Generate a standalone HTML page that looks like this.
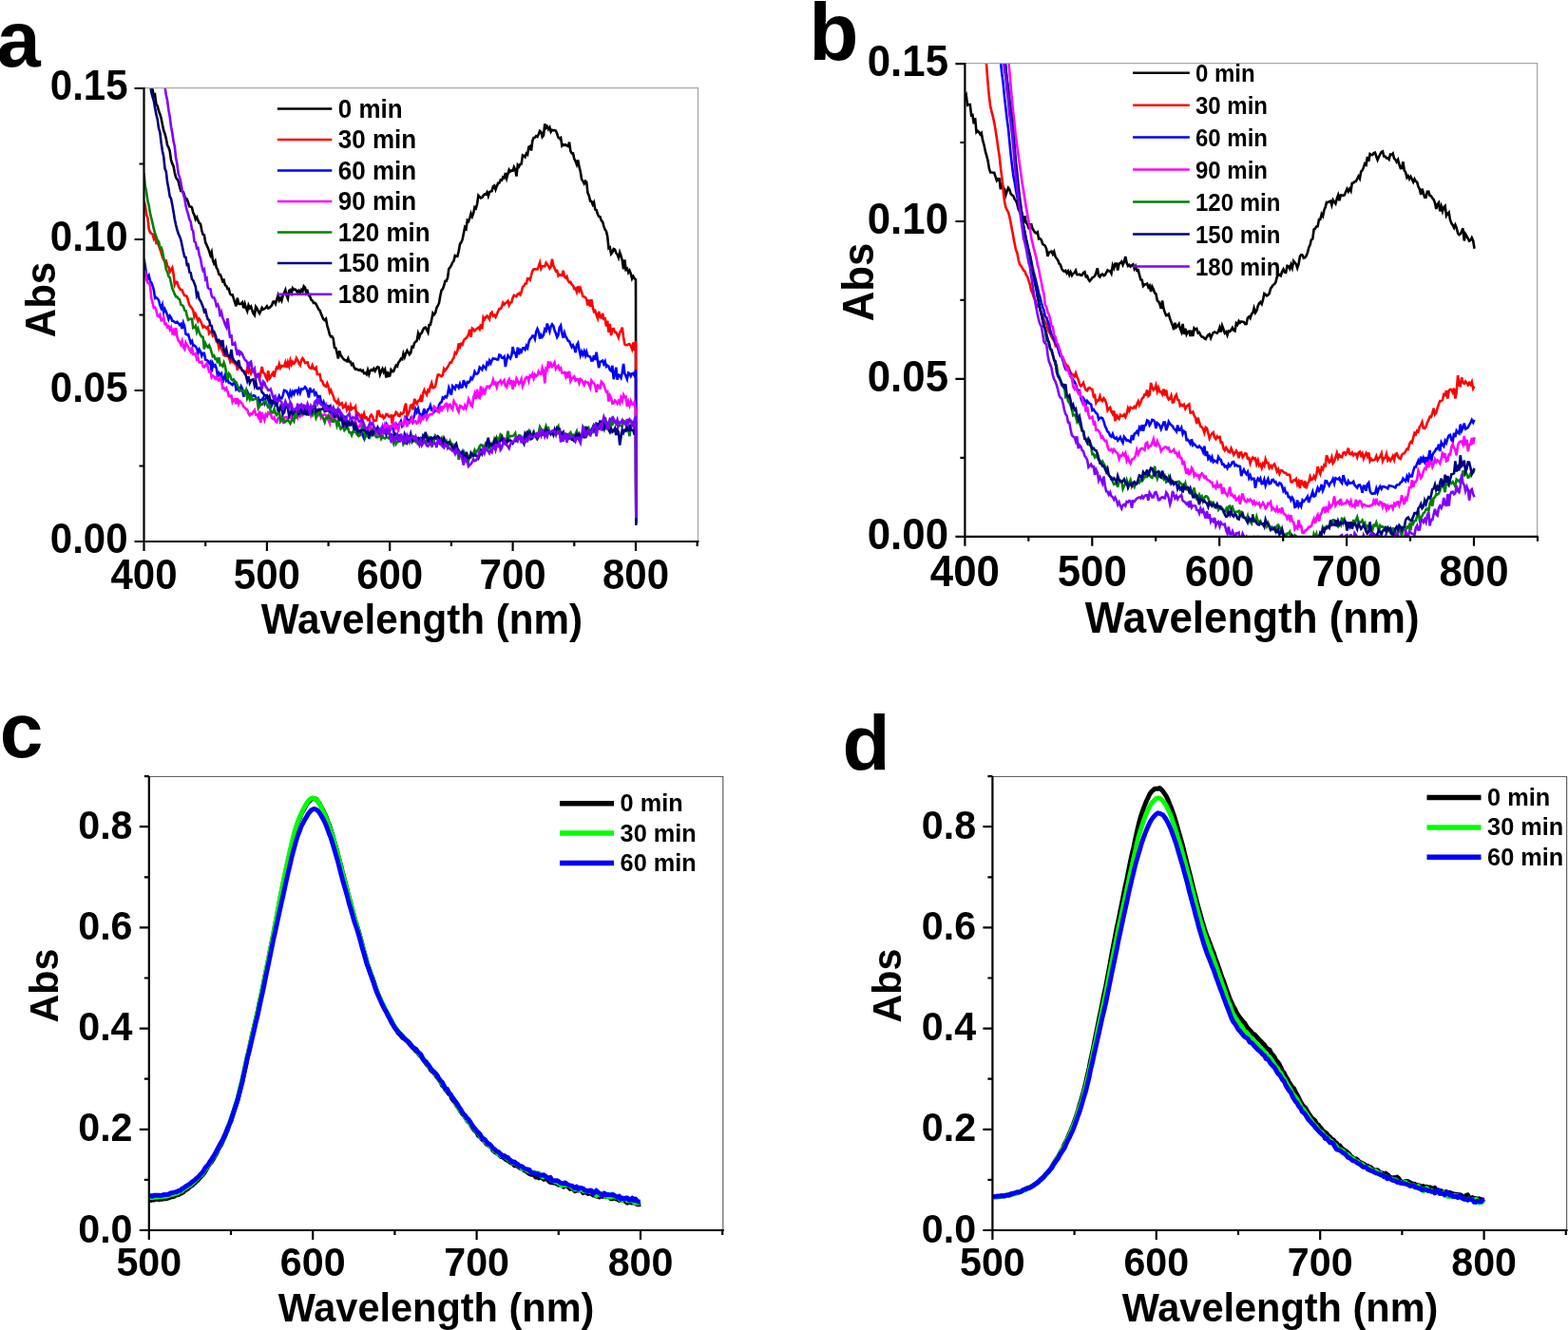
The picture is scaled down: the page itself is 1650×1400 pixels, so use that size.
<!DOCTYPE html>
<html lang="en"><head><meta charset="utf-8"><title>UV-vis absorption spectra</title>
<style>html,body{margin:0;padding:0;background:#fff}svg{display:block}text{font-family:'Liberation Sans', sans-serif;font-weight:bold;fill:#000}</style>
</head><body>
<svg width="1650" height="1400" viewBox="0 0 1650 1400">
<rect width="1650" height="1400" fill="#fff"/>
<defs>
<clipPath id="ca"><rect x="151.5" y="92.6" width="583" height="477.4"/></clipPath>
<clipPath id="cb"><rect x="1015.4" y="66.9" width="602" height="497.6"/></clipPath>
</defs>
<g id="panel-a">
<g clip-path="url(#ca)" fill="none" stroke-width="2.6" stroke-linejoin="miter" stroke-miterlimit="4">
<polyline stroke="#000000" points="151.5,55.1 152.8,64.2 154.1,70.5 155.4,72.9 156.7,78.6 158,83.6 159.3,90.9 160.6,94.7 161.8,100.6 163.1,99.6 164.4,109.9 165.7,111.3 167,116.8 168.3,120 169.6,124.3 170.9,131.1 172.2,137.3 173.5,140.6 174.8,145.8 176.1,152.8 177.4,155.1 178.7,159.1 180,168.5 181.3,172.4 182.6,175 183.8,181.8 185.1,186.8 186.4,188.7 187.7,190.9 189,196.5 190.3,201 191.6,201.1 192.9,202 194.2,206.2 195.5,209.3 196.8,209.6 198.1,213.5 199.4,217.3 200.7,217.5 202,218.5 203.2,223.9 204.5,226.3 205.8,230.8 207.1,228.7 208.4,232.2 209.7,234.8 211,235.7 212.3,242.5 213.6,246.9 214.9,247.5 216.2,255.2 217.5,257.9 218.8,260.9 220.1,264.3 221.4,268.5 222.7,265.2 223.9,273.6 225.2,277.3 226.5,274.9 227.8,281.9 229.1,283.8 230.4,288.8 231.7,288.9 233,292.1 234.3,295.9 235.6,295 236.9,300.1 238.2,300.9 239.5,304.1 240.8,303.9 242.1,309.3 243.4,310.4 244.6,310.3 245.9,314.4 247.2,318.7 248.5,322.4 249.8,313.6 251.1,319.5 252.4,320.1 253.7,319.7 255,318.3 256.3,324.3 257.6,319.8 258.9,324.4 260.2,327.4 261.5,321.4 262.8,324.3 264.1,322.7 265.4,326.8 266.6,330.2 267.9,331.8 269.2,322.8 270.5,324.6 271.8,327.7 273.1,330 274.4,327.3 275.7,324 277,325.8 278.3,325 279.6,324.1 280.9,322.4 282.2,324.5 283.5,324.1 284.8,322.6 286,321.6 287.3,317.7 288.6,317.5 289.9,319.9 291.2,315.7 292.5,311.1 293.8,316.1 295.1,313.8 296.4,316.4 297.7,311 299,308.5 300.3,305.3 301.6,311.1 302.9,314.3 304.2,306.1 305.5,305.2 306.8,308.5 308,303.3 309.3,304.8 310.6,304.7 311.9,305.9 313.2,308.2 314.5,306 315.8,307.9 317.1,305.1 318.4,306.8 319.7,301.3 321,302.6 322.3,308.5 323.6,306.6 324.9,311.1 326.2,312.1 327.4,315.7 328.7,316.5 330,318.9 331.3,318.9 332.6,320.1 333.9,322.8 335.2,325.4 336.5,326.8 337.8,330 339.1,333.2 340.4,336.1 341.7,337 343,335.7 344.3,342.6 345.6,346.9 346.9,352.2 348.1,354.3 349.4,354.1 350.7,356.4 352,365.8 353.3,366.4 354.6,371.4 355.9,377.6 357.2,369.3 358.5,373.8 359.8,375.8 361.1,377.5 362.4,378.8 363.7,379.2 365,380.2 366.3,377.3 367.6,381 368.9,380.9 370.1,384 371.4,382.9 372.7,386.8 374,388.6 375.3,388.4 376.6,389.3 377.9,389.8 379.2,389.2 380.5,390.6 381.8,389.9 383.1,393 384.4,392.7 385.7,394.1 387,389.5 388.3,394 389.5,390.2 390.8,389.3 392.1,390 393.4,388 394.7,390.5 396,388 397.3,386.3 398.6,386.7 399.9,394 401.2,390.7 402.5,388.2 403.8,391.6 405.1,389.1 406.4,397.5 407.7,391.1 409,395.9 410.2,395.5 411.5,389.4 412.8,391.1 414.1,391 415.4,387.6 416.7,384.7 418,385.6 419.3,381.6 420.6,380.1 421.9,377.7 423.2,378.2 424.5,372.2 425.8,375.8 427.1,372.1 428.4,369.1 429.7,371.1 430.9,373.2 432.2,371.5 433.5,365 434.8,365.5 436.1,361.1 437.4,359.7 438.7,358.5 440,351.2 441.3,355 442.6,351.2 443.9,350.3 445.2,346.9 446.5,345 447.8,344.6 449.1,347.1 450.4,349.8 451.6,342 452.9,341.8 454.2,336.4 455.5,329.5 456.8,331.2 458.1,329.4 459.4,324.1 460.7,321.9 462,318.9 463.3,311.5 464.6,305.5 465.9,304.2 467.2,300.5 468.5,295.8 469.8,295.7 471.1,292.2 472.3,283 473.6,281.5 474.9,279.4 476.2,276.3 477.5,274.7 478.8,269.1 480.1,270 481.4,269.9 482.7,264.3 484,256.9 485.3,255 486.6,252.2 487.9,245.7 489.2,239.2 490.5,240.7 491.8,231.8 493.1,232.8 494.3,229.7 495.6,224.6 496.9,227.9 498.2,224.3 499.5,218.2 500.8,219.4 502.1,214.8 503.4,205.8 504.7,207.1 506,208.5 507.3,208 508.6,205.8 509.9,204.4 511.2,204.6 512.5,202.4 513.8,206.4 515,202.3 516.3,201.5 517.6,201.1 518.9,196.3 520.2,195.4 521.5,199.5 522.8,195.9 524.1,192.7 525.4,192.6 526.7,189.4 528,189.7 529.3,186.5 530.6,187.4 531.9,182.1 533.2,187.5 534.5,182.8 535.7,178.7 537,180.6 538.3,179.5 539.6,179.8 540.9,175.8 542.2,178.3 543.5,185.5 544.8,173.8 546.1,175.4 547.4,172.9 548.7,172.5 550,163.4 551.3,164 552.6,165.3 553.9,161.6 555.1,162.7 556.4,154.8 557.7,154 559,158.5 560.3,148.3 561.6,144.9 562.9,144.8 564.2,143.2 565.5,143.9 566.8,141.2 568.1,137.9 569.4,139 570.7,144.2 572,142.6 573.3,130.5 574.6,134.6 575.8,133.1 577.1,136.1 578.4,134.1 579.7,138.7 581,136.8 582.3,137.2 583.6,137 584.9,137.7 586.2,140.8 587.5,144.7 588.8,145.8 590.1,145 591.4,153.5 592.7,152.4 594,153 595.3,152.3 596.5,153.4 597.8,154 599.1,149.6 600.4,159.2 601.7,161.5 603,161.4 604.3,167.3 605.6,169.5 606.9,173.1 608.2,168.4 609.5,175.7 610.8,180.7 612.1,188.7 613.4,190.6 614.7,193.1 616,190.6 617.2,191.7 618.5,203.1 619.8,206 621.1,211.6 622.4,211.8 623.7,215.2 625,213 626.3,220.6 627.6,221.1 628.9,225.3 630.2,228 631.5,228.4 632.8,232.2 634.1,233.4 635.4,238.4 636.7,241.7 638,243.6 639.2,248.7 640.5,261.2 641.8,260.4 643.1,267.2 644.4,265.5 645.7,262.1 647,262.7 648.3,266.2 649.6,267.9 650.9,271.3 652.2,265.7 653.5,269.4 654.8,274.2 656.1,283.4 657.4,273.5 658.6,283.8 659.9,282.7 661.2,286.8 662.5,284.7 663.8,288.1 665.1,293.4 666.4,290.9 667.7,293.2 669,294.3 669.3,551"/>
<polyline stroke="#ff0000" points="151.5,211.7 152.8,216.2 154.1,225.9 155.4,229.3 156.7,240.9 158,244.5 159.3,245.8 160.6,246.5 161.8,251.1 163.1,248.3 164.4,255.8 165.7,255.7 167,258.2 168.3,262.2 169.6,265.7 170.9,270.4 172.2,273.4 173.5,274.9 174.8,274.5 176.1,280.1 177.4,281 178.7,286 180,284 181.3,281.8 182.6,288.5 183.8,299.7 185.1,296.8 186.4,297 187.7,301.4 189,303.7 190.3,305.2 191.6,305.2 192.9,308.5 194.2,311 195.5,311.3 196.8,312.1 198.1,316.9 199.4,321.2 200.7,322.9 202,324.5 203.2,326.6 204.5,333.4 205.8,330.6 207.1,333.8 208.4,338 209.7,335.7 211,337.5 212.3,341.1 213.6,344.5 214.9,343.2 216.2,344.6 217.5,345.6 218.8,344.1 220.1,351 221.4,349.7 222.7,348 223.9,353.2 225.2,351.7 226.5,354.9 227.8,359.5 229.1,359.5 230.4,366 231.7,362.1 233,367.4 234.3,370.2 235.6,374.1 236.9,374.6 238.2,374.2 239.5,375 240.8,375.9 242.1,380.3 243.4,376.5 244.6,381 245.9,380.9 247.2,382.8 248.5,382.7 249.8,389.7 251.1,384.2 252.4,386.8 253.7,388 255,389.9 256.3,390.5 257.6,391.2 258.9,393.4 260.2,387.9 261.5,391.6 262.8,389.3 264.1,393.1 265.4,390.1 266.6,389.3 267.9,393 269.2,397.5 270.5,396.1 271.8,395.4 273.1,398.2 274.4,392.5 275.7,385.9 277,392.2 278.3,393.1 279.6,396.8 280.9,399.3 282.2,390.3 283.5,398.6 284.8,396.9 286,394.4 287.3,392.3 288.6,396.7 289.9,390.3 291.2,386.7 292.5,387.6 293.8,383.1 295.1,387.3 296.4,385 297.7,385.5 299,385.4 300.3,381.5 301.6,387 302.9,381.4 304.2,385.5 305.5,379.4 306.8,383.6 308,380.9 309.3,382.7 310.6,381.1 311.9,376.9 313.2,379.2 314.5,382.5 315.8,384.4 317.1,379.3 318.4,377.1 319.7,379 321,382 322.3,381.7 323.6,381.3 324.9,385.9 326.2,387.4 327.4,387.8 328.7,384.5 330,387.9 331.3,388.8 332.6,387 333.9,394 335.2,394 336.5,393.9 337.8,400.4 339.1,401.2 340.4,404.5 341.7,406.3 343,406.9 344.3,403.5 345.6,407 346.9,412.8 348.1,410.6 349.4,414.1 350.7,416.9 352,421.3 353.3,422.7 354.6,424.2 355.9,421.4 357.2,426.2 358.5,425.4 359.8,424.4 361.1,429.1 362.4,428.2 363.7,425.6 365,431.3 366.3,428.7 367.6,431.3 368.9,426.8 370.1,430.7 371.4,429.4 372.7,429.8 374,428 375.3,438.9 376.6,434.8 377.9,436 379.2,439.1 380.5,437.1 381.8,440 383.1,435.5 384.4,440 385.7,439.3 387,442.1 388.3,442.3 389.5,438.2 390.8,436.6 392.1,438.5 393.4,443.2 394.7,442.8 396,442.5 397.3,433.1 398.6,432.8 399.9,437.9 401.2,438.5 402.5,437.3 403.8,440.2 405.1,439 406.4,435.9 407.7,436.1 409,438.4 410.2,438.2 411.5,437.5 412.8,446.4 414.1,437.4 415.4,437.2 416.7,433.8 418,434.8 419.3,437.6 420.6,437.9 421.9,434.7 423.2,435.7 424.5,434.7 425.8,429.2 427.1,424.6 428.4,438 429.7,435.4 430.9,432.2 432.2,426.7 433.5,426.1 434.8,431.4 436.1,419.8 437.4,423.1 438.7,425 440,421.8 441.3,421.7 442.6,418.2 443.9,423.1 445.2,413.7 446.5,410.5 447.8,413.2 449.1,415.4 450.4,410.7 451.6,411.8 452.9,406.7 454.2,403.1 455.5,408.2 456.8,408 458.1,406.7 459.4,400.2 460.7,394.7 462,394.4 463.3,395.2 464.6,396.3 465.9,394.8 467.2,388.2 468.5,390 469.8,388.1 471.1,386.4 472.3,384.2 473.6,381.6 474.9,381.6 476.2,378.6 477.5,376.7 478.8,371.2 480.1,372.3 481.4,369.1 482.7,361.5 484,365.3 485.3,361.9 486.6,362.8 487.9,358.5 489.2,356.8 490.5,356.1 491.8,354.2 493.1,351.8 494.3,346.9 495.6,354.7 496.9,345.7 498.2,346.8 499.5,348.3 500.8,346.6 502.1,345.7 503.4,344.8 504.7,346.6 506,341.3 507.3,346.3 508.6,334.2 509.9,336.3 511.2,334.1 512.5,332.5 513.8,334.1 515,336.1 516.3,330.1 517.6,328.7 518.9,332.6 520.2,331.7 521.5,333.8 522.8,330.9 524.1,327.7 525.4,325 526.7,325.1 528,323 529.3,318.7 530.6,320.6 531.9,319.2 533.2,318.2 534.5,316.8 535.7,321.3 537,318.5 538.3,318.1 539.6,313.3 540.9,310.8 542.2,311.6 543.5,312.1 544.8,309.7 546.1,308.7 547.4,310.3 548.7,307.3 550,302 551.3,301 552.6,298.5 553.9,298.5 555.1,293.1 556.4,293.2 557.7,294.7 559,290.2 560.3,285.2 561.6,283.4 562.9,283.4 564.2,283.3 565.5,283.5 566.8,280.4 568.1,276.5 569.4,282.7 570.7,280.2 572,280.2 573.3,280.4 574.6,276.7 575.8,278.2 577.1,280.1 578.4,282.6 579.7,280.8 581,272.7 582.3,279.5 583.6,282.2 584.9,285.4 586.2,284.9 587.5,290.2 588.8,289 590.1,289.7 591.4,289.8 592.7,284.7 594,291.3 595.3,292.6 596.5,291 597.8,295.5 599.1,297.3 600.4,296.9 601.7,299.5 603,300.6 604.3,303.9 605.6,303.5 606.9,307.2 608.2,301.2 609.5,306.2 610.8,303.4 612.1,307.5 613.4,312.1 614.7,312.3 616,313.2 617.2,315.2 618.5,321.5 619.8,315.4 621.1,322.7 622.4,315.3 623.7,322.9 625,328.1 626.3,327.1 627.6,331.7 628.9,335.1 630.2,327.9 631.5,333.8 632.8,334.4 634.1,329.9 635.4,335.7 636.7,335.4 638,343.5 639.2,337.6 640.5,349.9 641.8,341 643.1,353.1 644.4,346.5 645.7,346.1 647,349.6 648.3,349.7 649.6,352.5 650.9,355.4 652.2,349.9 653.5,348 654.8,344.7 656.1,355 657.4,362.4 658.6,363.2 659.9,363.2 661.2,362.4 662.5,362.1 663.8,364.1 665.1,367.5 666.4,360.4 667.7,369.1 669,359.1 669.3,551"/>
<polyline stroke="#0000ff" points="151.5,272.2 152.8,280.3 154.1,289 155.4,292.9 156.7,290.1 158,295.6 159.3,297.6 160.6,301 161.8,305 163.1,313.8 164.4,313.2 165.7,314.5 167,316 168.3,321 169.6,324.3 170.9,320.7 172.2,328.7 173.5,325.3 174.8,328.2 176.1,331.4 177.4,335.9 178.7,332.5 180,334.4 181.3,337.8 182.6,338 183.8,339.2 185.1,339.8 186.4,338.8 187.7,340.3 189,342.1 190.3,341.1 191.6,346.1 192.9,339.8 194.2,343.5 195.5,351.6 196.8,352.3 198.1,352 199.4,356.6 200.7,360.8 202,359 203.2,363.6 204.5,363.5 205.8,364.8 207.1,366.7 208.4,371.3 209.7,367.7 211,369.9 212.3,374.6 213.6,371.8 214.9,371.8 216.2,378.5 217.5,379.1 218.8,380 220.1,382.1 221.4,380.7 222.7,391.6 223.9,382.6 225.2,385.5 226.5,384.4 227.8,388 229.1,396.6 230.4,392.7 231.7,394.8 233,393.3 234.3,402.8 235.6,398.1 236.9,394.8 238.2,400.8 239.5,399.4 240.8,402.9 242.1,403 243.4,404.3 244.6,405.1 245.9,403.3 247.2,402.4 248.5,410 249.8,408.9 251.1,410.9 252.4,410.1 253.7,406.6 255,409.1 256.3,417.6 257.6,413.3 258.9,414.5 260.2,412.1 261.5,414.8 262.8,415.8 264.1,416.2 265.4,417.4 266.6,416.3 267.9,416.5 269.2,418.3 270.5,419.7 271.8,418.8 273.1,424.2 274.4,420.9 275.7,420.8 277,418.9 278.3,423.9 279.6,419.3 280.9,417.6 282.2,419.5 283.5,424.5 284.8,420.4 286,426.6 287.3,423.6 288.6,418.9 289.9,421.5 291.2,426.9 292.5,419.9 293.8,416.7 295.1,419.3 296.4,419.4 297.7,416.4 299,410.8 300.3,411.2 301.6,411.9 302.9,414.6 304.2,417.9 305.5,412.5 306.8,416.1 308,412.4 309.3,414.8 310.6,411 311.9,410.9 313.2,413.7 314.5,409.9 315.8,413.6 317.1,409.4 318.4,409.9 319.7,409 321,407.3 322.3,409 323.6,412.1 324.9,418.5 326.2,408.2 327.4,412.3 328.7,412 330,410.9 331.3,415.4 332.6,413.6 333.9,417 335.2,422.7 336.5,416 337.8,423 339.1,425.6 340.4,423.1 341.7,427.7 343,428.6 344.3,427.5 345.6,432.3 346.9,426.6 348.1,431.9 349.4,430.2 350.7,428.9 352,431.8 353.3,432.4 354.6,436.5 355.9,431.5 357.2,435.4 358.5,436.2 359.8,442.8 361.1,437.3 362.4,443.7 363.7,437.8 365,444.3 366.3,444.4 367.6,446.8 368.9,445.1 370.1,442.5 371.4,444.5 372.7,453.8 374,453 375.3,449.6 376.6,456.4 377.9,453.4 379.2,453.4 380.5,452.1 381.8,458.5 383.1,461.4 384.4,453.6 385.7,456 387,458 388.3,461.3 389.5,449.1 390.8,454.4 392.1,456.3 393.4,450.5 394.7,454.8 396,454.6 397.3,455.8 398.6,452.1 399.9,454.2 401.2,451.3 402.5,454 403.8,452.8 405.1,450.9 406.4,447.5 407.7,455.1 409,454.3 410.2,453.2 411.5,448.4 412.8,448.3 414.1,453.4 415.4,451.1 416.7,446 418,447.4 419.3,447.4 420.6,445.9 421.9,443.3 423.2,448.5 424.5,446.8 425.8,444 427.1,439.4 428.4,441 429.7,442.3 430.9,444.3 432.2,440.6 433.5,443.7 434.8,440.8 436.1,437.4 437.4,430.8 438.7,433.8 440,430.2 441.3,435.1 442.6,436.4 443.9,438.7 445.2,434.5 446.5,430.2 447.8,438.8 449.1,433.6 450.4,431 451.6,430.2 452.9,426.7 454.2,431.4 455.5,430.8 456.8,433.7 458.1,432.2 459.4,432 460.7,433 462,426.3 463.3,423.9 464.6,423.3 465.9,418.4 467.2,419.3 468.5,417.3 469.8,418.2 471.1,415.1 472.3,408.3 473.6,411.9 474.9,415.5 476.2,406.3 477.5,407.7 478.8,409.5 480.1,405.5 481.4,405.8 482.7,408 484,404 485.3,407.8 486.6,407.5 487.9,400.2 489.2,404.1 490.5,406.4 491.8,402.1 493.1,402.7 494.3,401.4 495.6,397.6 496.9,399.2 498.2,396.5 499.5,391.3 500.8,393.6 502.1,393.5 503.4,392.1 504.7,386.6 506,387.7 507.3,389.2 508.6,385.2 509.9,386.4 511.2,388 512.5,382 513.8,383.6 515,379.7 516.3,382.5 517.6,379.2 518.9,377.2 520.2,377.9 521.5,377.6 522.8,378.5 524.1,378.4 525.4,373.6 526.7,374.1 528,376.6 529.3,376.9 530.6,375.5 531.9,386 533.2,378.9 534.5,374.3 535.7,375.8 537,377.3 538.3,374.4 539.6,365.1 540.9,371.3 542.2,371.4 543.5,376.6 544.8,365.7 546.1,373.1 547.4,368.6 548.7,370.3 550,366.4 551.3,366.3 552.6,368 553.9,364 555.1,366.3 556.4,360.3 557.7,357.1 559,355.8 560.3,353.6 561.6,353.5 562.9,356.7 564.2,349.2 565.5,346.2 566.8,349.6 568.1,356.6 569.4,352.6 570.7,354.6 572,352.4 573.3,346.6 574.6,348.1 575.8,340.5 577.1,345.2 578.4,349 579.7,343.4 581,341.3 582.3,343.1 583.6,347.9 584.9,350.6 586.2,354.9 587.5,352.5 588.8,344.7 590.1,342.6 591.4,350.7 592.7,355.8 594,350.2 595.3,354.1 596.5,356.1 597.8,358.7 599.1,359.3 600.4,362.4 601.7,365.3 603,363.4 604.3,366.1 605.6,371.1 606.9,363.1 608.2,361 609.5,368.2 610.8,374.1 612.1,370.1 613.4,373.4 614.7,369.9 616,374.2 617.2,370.3 618.5,374.8 619.8,375 621.1,375.6 622.4,379.6 623.7,379.5 625,374.1 626.3,378.9 627.6,370.8 628.9,379.6 630.2,387.3 631.5,380.7 632.8,380.4 634.1,379.7 635.4,383.2 636.7,380.4 638,385.8 639.2,384.7 640.5,385.7 641.8,389.4 643.1,390.4 644.4,384.9 645.7,399.2 647,394 648.3,386.7 649.6,399.6 650.9,394.6 652.2,395.3 653.5,397.6 654.8,391.7 656.1,382.9 657.4,393.3 658.6,395.8 659.9,399.1 661.2,392.4 662.5,393.1 663.8,396 665.1,393.3 666.4,392.9 667.7,395.4 669,389.5 669.3,551"/>
<polyline stroke="#ff00ff" points="151.5,286.3 152.8,286.1 154.1,294.3 155.4,297.7 156.7,297.6 158,301.2 159.3,314.1 160.6,318.7 161.8,323.9 163.1,323.6 164.4,326.8 165.7,332.4 167,333.3 168.3,331.4 169.6,337.3 170.9,337.1 172.2,334.2 173.5,341.2 174.8,340.8 176.1,344.5 177.4,343.4 178.7,347 180,344.4 181.3,350.2 182.6,347.9 183.8,353.1 185.1,345.2 186.4,354.5 187.7,358.7 189,359.8 190.3,362.7 191.6,358.8 192.9,365.6 194.2,367.6 195.5,360.7 196.8,363.5 198.1,365.5 199.4,368.2 200.7,370.4 202,365.1 203.2,373 204.5,373 205.8,372.3 207.1,378.1 208.4,376.8 209.7,381.4 211,381.7 212.3,380.8 213.6,385.6 214.9,386.5 216.2,384.5 217.5,382.7 218.8,386.5 220.1,391.1 221.4,390.8 222.7,397.2 223.9,395.4 225.2,396.4 226.5,398.4 227.8,396.7 229.1,399.9 230.4,400.4 231.7,397.6 233,400.3 234.3,408.8 235.6,408.2 236.9,410.4 238.2,408.5 239.5,411.9 240.8,417.1 242.1,417.2 243.4,416.5 244.6,423 245.9,420.4 247.2,420.3 248.5,425.3 249.8,418.9 251.1,425.3 252.4,422.3 253.7,423.7 255,424.9 256.3,428.1 257.6,429.2 258.9,430.6 260.2,431.2 261.5,435.3 262.8,437.2 264.1,435.4 265.4,435.9 266.6,433.4 267.9,431.7 269.2,436.7 270.5,436.3 271.8,439.1 273.1,432.7 274.4,444.8 275.7,434 277,438.6 278.3,442.1 279.6,436.3 280.9,438 282.2,434.2 283.5,435.4 284.8,434.1 286,439.7 287.3,440.8 288.6,439.2 289.9,443.4 291.2,444.2 292.5,440.5 293.8,439.4 295.1,439.2 296.4,438 297.7,443.3 299,441 300.3,439.1 301.6,439 302.9,440.9 304.2,438.3 305.5,439.7 306.8,438.5 308,441.9 309.3,441.4 310.6,434 311.9,436.2 313.2,439.6 314.5,435.5 315.8,438.2 317.1,436.9 318.4,437.1 319.7,435 321,435.4 322.3,435.7 323.6,429.9 324.9,430.5 326.2,430.1 327.4,437.3 328.7,434.8 330,434.9 331.3,433.9 332.6,432.1 333.9,431.6 335.2,436.3 336.5,433.9 337.8,439.4 339.1,437.1 340.4,436.7 341.7,436.3 343,437.1 344.3,437.9 345.6,442.4 346.9,445.5 348.1,435 349.4,439.6 350.7,441.8 352,437.9 353.3,438.6 354.6,439.5 355.9,434.6 357.2,442.7 358.5,442 359.8,442.2 361.1,443.1 362.4,444 363.7,450.1 365,445.3 366.3,446.9 367.6,443.7 368.9,446.6 370.1,444.9 371.4,445.5 372.7,443.9 374,443.1 375.3,448 376.6,449.7 377.9,449.5 379.2,446.7 380.5,449.4 381.8,442.2 383.1,451.1 384.4,449.9 385.7,450.9 387,453.8 388.3,449.5 389.5,453.8 390.8,450.7 392.1,453.4 393.4,450.7 394.7,453.1 396,456.7 397.3,451.4 398.6,450.9 399.9,451.6 401.2,453.4 402.5,460.2 403.8,451.8 405.1,446.7 406.4,449.7 407.7,447.3 409,449.7 410.2,451.4 411.5,448.7 412.8,448.9 414.1,445.3 415.4,450.3 416.7,447.4 418,451.4 419.3,452.7 420.6,445.3 421.9,445.1 423.2,445.8 424.5,447.4 425.8,440.5 427.1,443.7 428.4,449.1 429.7,444.1 430.9,444.2 432.2,443.4 433.5,439.9 434.8,445.1 436.1,443.8 437.4,443.5 438.7,445.6 440,444.7 441.3,437 442.6,443 443.9,439.7 445.2,440.9 446.5,438.1 447.8,436.9 449.1,441.2 450.4,438.5 451.6,436.8 452.9,436 454.2,436.3 455.5,435.3 456.8,427.8 458.1,428.8 459.4,430.9 460.7,432.8 462,433.8 463.3,426.9 464.6,433.2 465.9,428.5 467.2,428.8 468.5,425.7 469.8,425 471.1,430.2 472.3,426.1 473.6,425.8 474.9,429.1 476.2,430.9 477.5,422.3 478.8,424.8 480.1,425.6 481.4,430.8 482.7,433.4 484,427 485.3,427.6 486.6,429.2 487.9,430.4 489.2,426.7 490.5,429.7 491.8,425.9 493.1,420.1 494.3,422.8 495.6,426.8 496.9,427.8 498.2,418.3 499.5,414.3 500.8,419.9 502.1,409.8 503.4,418.1 504.7,419 506,406.5 507.3,413.7 508.6,410.5 509.9,415.5 511.2,409.6 512.5,406.8 513.8,406.7 515,408.2 516.3,405.7 517.6,404.4 518.9,399.6 520.2,403.9 521.5,402.8 522.8,407.4 524.1,402.8 525.4,402.1 526.7,400.5 528,404 529.3,401.9 530.6,400.3 531.9,406.4 533.2,407.6 534.5,401.6 535.7,399.4 537,405 538.3,400.3 539.6,409.7 540.9,402.7 542.2,404.7 543.5,398.5 544.8,401 546.1,404.1 547.4,402.3 548.7,399 550,406.5 551.3,403.6 552.6,398.9 553.9,396.9 555.1,397.2 556.4,401.2 557.7,395.3 559,396.3 560.3,393.5 561.6,398.2 562.9,394.3 564.2,396 565.5,394.8 566.8,390.9 568.1,393.3 569.4,393.6 570.7,387.1 572,390.5 573.3,403.5 574.6,388 575.8,389.1 577.1,380.2 578.4,385.3 579.7,382.7 581,386 582.3,384.4 583.6,381.6 584.9,388.3 586.2,386.4 587.5,385 588.8,389 590.1,387.6 591.4,392.4 592.7,392.5 594,392 595.3,396 596.5,391.4 597.8,398.1 599.1,390.6 600.4,401.2 601.7,398.7 603,397.5 604.3,396.3 605.6,400.5 606.9,399.2 608.2,399.3 609.5,403.4 610.8,399 612.1,399.9 613.4,402.4 614.7,405.1 616,401.6 617.2,402.5 618.5,402.5 619.8,405.1 621.1,408.3 622.4,400.6 623.7,402.6 625,403.4 626.3,405.9 627.6,412.9 628.9,405.5 630.2,405.8 631.5,409.5 632.8,401.8 634.1,403.1 635.4,405 636.7,409.1 638,412.5 639.2,412.2 640.5,422.6 641.8,416.4 643.1,418.8 644.4,424.7 645.7,424.4 647,421.5 648.3,422.9 649.6,424.9 650.9,422 652.2,424.3 653.5,418.5 654.8,421.9 656.1,415.6 657.4,418.1 658.6,417.7 659.9,427.8 661.2,422.7 662.5,426.8 663.8,422.1 665.1,425.3 666.4,425.9 667.7,423.3 669,432.4 669.3,545"/>
<polyline stroke="#008000" points="151.5,182 152.8,196.1 154.1,202 155.4,211.7 156.7,216.2 158,224.7 159.3,229.7 160.6,235.2 161.8,240.9 163.1,245.4 164.4,249.1 165.7,253.2 167,254.3 168.3,260.7 169.6,260.5 170.9,263.8 172.2,271.7 173.5,276.1 174.8,283.7 176.1,286.2 177.4,290.9 178.7,292.2 180,297.8 181.3,303.7 182.6,306.5 183.8,309.7 185.1,312.2 186.4,312.4 187.7,314.3 189,315 190.3,320.5 191.6,321.3 192.9,322.3 194.2,326.5 195.5,326.9 196.8,332.4 198.1,336.8 199.4,336.2 200.7,335.5 202,335.6 203.2,345.2 204.5,344.7 205.8,342.9 207.1,349.5 208.4,346 209.7,350.1 211,352.8 212.3,354.6 213.6,354.8 214.9,367.6 216.2,361.5 217.5,364.3 218.8,365.5 220.1,363.5 221.4,366.7 222.7,371.2 223.9,375.1 225.2,374.2 226.5,377.8 227.8,377.7 229.1,382.2 230.4,376.2 231.7,384.4 233,384 234.3,385.5 235.6,381.7 236.9,385.6 238.2,393 239.5,399.4 240.8,393.2 242.1,394.8 243.4,399.1 244.6,400.3 245.9,399.4 247.2,401.5 248.5,402.3 249.8,406 251.1,408 252.4,411.7 253.7,411.1 255,411.5 256.3,411.3 257.6,414.2 258.9,410.8 260.2,419.3 261.5,416.6 262.8,420.1 264.1,415.9 265.4,420.9 266.6,420.8 267.9,420.1 269.2,419.6 270.5,419.7 271.8,429.7 273.1,427.6 274.4,425.2 275.7,425.8 277,424.2 278.3,421.9 279.6,422.5 280.9,426.2 282.2,428.6 283.5,427.2 284.8,433 286,434 287.3,434.2 288.6,430.5 289.9,434.9 291.2,436.9 292.5,434.8 293.8,433 295.1,443.7 296.4,442.1 297.7,439.6 299,444.6 300.3,444.2 301.6,442.7 302.9,442.2 304.2,443.7 305.5,445.7 306.8,442.4 308,441.2 309.3,443.3 310.6,433.3 311.9,438.4 313.2,436.6 314.5,436.3 315.8,434.9 317.1,435.5 318.4,434.9 319.7,434.8 321,434.1 322.3,435.9 323.6,433.8 324.9,437.5 326.2,429.1 327.4,435.5 328.7,437.1 330,433.1 331.3,435 332.6,439.9 333.9,436.8 335.2,435 336.5,429.7 337.8,437.7 339.1,438.4 340.4,440.9 341.7,444.3 343,439.8 344.3,440 345.6,437.4 346.9,440 348.1,440.9 349.4,443.6 350.7,444 352,441.4 353.3,442.5 354.6,448 355.9,443.5 357.2,448 358.5,451.4 359.8,450 361.1,449.5 362.4,452.9 363.7,451.4 365,451 366.3,451.1 367.6,455.3 368.9,455.3 370.1,458.1 371.4,454.3 372.7,454 374,454.5 375.3,456.7 376.6,454.8 377.9,458.8 379.2,457.9 380.5,454.6 381.8,449.3 383.1,451.6 384.4,460.2 385.7,457.6 387,457.8 388.3,456.5 389.5,459 390.8,453.1 392.1,452.3 393.4,453.2 394.7,457.8 396,460.2 397.3,460.2 398.6,459.1 399.9,456.4 401.2,461.8 402.5,459.7 403.8,461 405.1,461.5 406.4,460.3 407.7,460.6 409,461.3 410.2,459.9 411.5,463.9 412.8,463.3 414.1,466.8 415.4,460.3 416.7,467.3 418,465.2 419.3,465 420.6,463.5 421.9,463.5 423.2,459.8 424.5,467.5 425.8,465.6 427.1,466.9 428.4,466.2 429.7,461.4 430.9,462.2 432.2,462 433.5,465.5 434.8,463.7 436.1,463.6 437.4,465 438.7,463.2 440,468.4 441.3,460.3 442.6,466.1 443.9,467.3 445.2,461 446.5,465.4 447.8,464.5 449.1,466 450.4,461 451.6,464.1 452.9,461.4 454.2,462.8 455.5,467.5 456.8,464.1 458.1,458.6 459.4,460.3 460.7,461.2 462,467 463.3,462.5 464.6,461 465.9,467.7 467.2,466.6 468.5,467.1 469.8,464.8 471.1,470.9 472.3,468.4 473.6,464.3 474.9,466.8 476.2,467.5 477.5,471.3 478.8,475 480.1,471.3 481.4,472.9 482.7,483.9 484,477.6 485.3,476.1 486.6,478.1 487.9,475.8 489.2,480.7 490.5,482.9 491.8,479.6 493.1,484.8 494.3,480.3 495.6,481.2 496.9,478.1 498.2,476.7 499.5,473.8 500.8,476.7 502.1,474.6 503.4,473.2 504.7,469.8 506,468.3 507.3,468.6 508.6,470.7 509.9,470 511.2,466.8 512.5,468.3 513.8,471.6 515,467.3 516.3,471.1 517.6,467 518.9,468.4 520.2,462.7 521.5,466.6 522.8,460.8 524.1,463.4 525.4,461.5 526.7,457.3 528,458.1 529.3,464.3 530.6,463.2 531.9,464.9 533.2,462.1 534.5,453.8 535.7,460.6 537,459.2 538.3,459 539.6,459 540.9,458.1 542.2,456 543.5,462.6 544.8,461.3 546.1,458.3 547.4,458.4 548.7,461.9 550,460.8 551.3,460.4 552.6,456.4 553.9,457.9 555.1,456.2 556.4,453.9 557.7,460.5 559,457.8 560.3,456.6 561.6,454.3 562.9,457.5 564.2,460.3 565.5,456 566.8,455.6 568.1,449.5 569.4,452.1 570.7,452.5 572,455.8 573.3,452.5 574.6,448.4 575.8,451.6 577.1,450.5 578.4,455.8 579.7,454.6 581,453.7 582.3,453.3 583.6,455.1 584.9,452.1 586.2,450.9 587.5,448.7 588.8,456.9 590.1,456.8 591.4,457.8 592.7,457.1 594,461.9 595.3,456 596.5,461.6 597.8,456.9 599.1,456.8 600.4,455.3 601.7,458.8 603,457.9 604.3,459.7 605.6,456.9 606.9,454 608.2,459.2 609.5,461.7 610.8,461.3 612.1,457.6 613.4,458.9 614.7,448.9 616,454.3 617.2,459 618.5,456.8 619.8,451.9 621.1,456 622.4,452.7 623.7,454.4 625,447.2 626.3,448.5 627.6,450.9 628.9,450.7 630.2,451.1 631.5,448.8 632.8,447.4 634.1,449 635.4,451.6 636.7,439.2 638,444.3 639.2,445.1 640.5,446.3 641.8,449.5 643.1,442 644.4,448 645.7,441.3 647,444.4 648.3,446.1 649.6,447.7 650.9,447.1 652.2,447.6 653.5,448.4 654.8,448.7 656.1,442.9 657.4,443.7 658.6,447.1 659.9,450.8 661.2,452.6 662.5,459.2 663.8,449.5 665.1,444.5 666.4,446.8 667.7,448.3 669,445.7 669.3,551"/>
<polyline stroke="#000080" points="151.5,60.8 152.8,66.2 154.1,73.8 155.4,77.8 156.7,85.7 158,88.4 159.3,97.3 160.6,102.1 161.8,106.1 163.1,113.5 164.4,120.4 165.7,125.4 167,135 168.3,139.1 169.6,150.2 170.9,158.7 172.2,164.7 173.5,177.5 174.8,180.6 176.1,191.8 177.4,198.4 178.7,206.9 180,209 181.3,215.8 182.6,222.9 183.8,230.8 185.1,236.7 186.4,241.8 187.7,246 189,248.8 190.3,252.3 191.6,258.4 192.9,264.8 194.2,270.3 195.5,270.9 196.8,278.8 198.1,278.3 199.4,286.6 200.7,287.1 202,293.9 203.2,295 204.5,298.2 205.8,301.7 207.1,311.6 208.4,309.1 209.7,315.1 211,316.6 212.3,319.8 213.6,323 214.9,327.8 216.2,326.4 217.5,332.1 218.8,336.4 220.1,337 221.4,342.7 222.7,342.9 223.9,349.4 225.2,349.1 226.5,352.1 227.8,356.8 229.1,359.8 230.4,358 231.7,359.3 233,364.8 234.3,357.9 235.6,368.6 236.9,371.4 238.2,367.6 239.5,374.1 240.8,374.4 242.1,376.2 243.4,368 244.6,376 245.9,379.1 247.2,380.4 248.5,382 249.8,383.8 251.1,379 252.4,386 253.7,387.2 255,390.2 256.3,390.8 257.6,393.4 258.9,395.6 260.2,400.8 261.5,396.3 262.8,403.1 264.1,400.4 265.4,399.6 266.6,399.3 267.9,406.1 269.2,402.2 270.5,408.8 271.8,409.3 273.1,408.2 274.4,409 275.7,413 277,413.8 278.3,416.5 279.6,416.2 280.9,416.1 282.2,420 283.5,417.5 284.8,423.5 286,423.6 287.3,421.9 288.6,423 289.9,425.9 291.2,423.4 292.5,431.8 293.8,432.4 295.1,427.9 296.4,430.4 297.7,435.8 299,434.3 300.3,429.2 301.6,427.6 302.9,429 304.2,438.2 305.5,435.6 306.8,431.4 308,435.9 309.3,433.6 310.6,432.3 311.9,431.4 313.2,431.8 314.5,436.8 315.8,430.4 317.1,430.6 318.4,434.7 319.7,435.3 321,429.1 322.3,435.9 323.6,435.9 324.9,427.9 326.2,435.1 327.4,427.8 328.7,432.3 330,428.3 331.3,426.2 332.6,433.7 333.9,432.4 335.2,431 336.5,431.5 337.8,430.9 339.1,430.6 340.4,428.9 341.7,433.2 343,432.8 344.3,432.3 345.6,432.3 346.9,433.6 348.1,429.1 349.4,434.2 350.7,433.6 352,439.7 353.3,435.4 354.6,436.6 355.9,438.5 357.2,441.2 358.5,441.9 359.8,440.8 361.1,449.6 362.4,442.9 363.7,443.5 365,450.3 366.3,442.7 367.6,447.2 368.9,447.4 370.1,444 371.4,445.5 372.7,452.3 374,447.2 375.3,450.5 376.6,454.7 377.9,453 379.2,454.6 380.5,452.8 381.8,452.7 383.1,452.7 384.4,453.3 385.7,455.7 387,454.5 388.3,459 389.5,455.8 390.8,454.5 392.1,459.2 393.4,453.7 394.7,451.1 396,453.1 397.3,450.1 398.6,453.7 399.9,456.2 401.2,454.8 402.5,452.2 403.8,452.9 405.1,454.9 406.4,457.4 407.7,453.7 409,454.2 410.2,458.6 411.5,457.5 412.8,458.1 414.1,458.9 415.4,456.2 416.7,457.7 418,461.1 419.3,458.6 420.6,458.3 421.9,460.1 423.2,460.3 424.5,465.8 425.8,457.1 427.1,459.8 428.4,464.8 429.7,460.6 430.9,461 432.2,456.6 433.5,462.3 434.8,464.1 436.1,463.1 437.4,460.6 438.7,461.8 440,461 441.3,463.4 442.6,461.6 443.9,463.5 445.2,458.6 446.5,460.6 447.8,454.7 449.1,460.9 450.4,464 451.6,461.9 452.9,468.3 454.2,460.8 455.5,461.6 456.8,460.3 458.1,461.4 459.4,461.7 460.7,459.3 462,460.4 463.3,468.3 464.6,463.6 465.9,466.2 467.2,461.3 468.5,464 469.8,466.5 471.1,465.7 472.3,465.5 473.6,467.1 474.9,468.6 476.2,471.7 477.5,473.9 478.8,468.6 480.1,466.9 481.4,472.1 482.7,474.1 484,477 485.3,479.2 486.6,476.1 487.9,483.5 489.2,480.6 490.5,475.8 491.8,482.6 493.1,482.3 494.3,481.8 495.6,476.8 496.9,479 498.2,480.1 499.5,478.5 500.8,479.6 502.1,480.4 503.4,482.4 504.7,479.1 506,474.4 507.3,477.8 508.6,474 509.9,474.5 511.2,471.2 512.5,465.5 513.8,460.8 515,469 516.3,467.3 517.6,468.3 518.9,470.2 520.2,463.9 521.5,462.1 522.8,466.6 524.1,467.1 525.4,465.2 526.7,464 528,460.9 529.3,463.9 530.6,462.4 531.9,465 533.2,466.3 534.5,462.4 535.7,464.2 537,463.6 538.3,464.6 539.6,466.6 540.9,464.5 542.2,464.1 543.5,464.1 544.8,460.9 546.1,461.4 547.4,462.2 548.7,464.4 550,464.7 551.3,467.1 552.6,457.2 553.9,460 555.1,453.6 556.4,458 557.7,455.5 559,462 560.3,461.3 561.6,456.2 562.9,458.7 564.2,459.6 565.5,461.8 566.8,459.4 568.1,457 569.4,455.9 570.7,457.5 572,456.7 573.3,454.6 574.6,452.3 575.8,457.7 577.1,453.8 578.4,454.4 579.7,457 581,455.2 582.3,457.9 583.6,452.5 584.9,456.6 586.2,450.2 587.5,451.2 588.8,451.6 590.1,456.7 591.4,456 592.7,454.7 594,462.1 595.3,457.8 596.5,459.8 597.8,461.9 599.1,459.8 600.4,461.8 601.7,462.7 603,460.6 604.3,465.2 605.6,459.4 606.9,457.1 608.2,460.3 609.5,457.1 610.8,460.4 612.1,459.1 613.4,457.6 614.7,460.3 616,460 617.2,448.9 618.5,454.9 619.8,456.4 621.1,456.9 622.4,453.1 623.7,450.1 625,453.1 626.3,454.8 627.6,445.8 628.9,446.2 630.2,449 631.5,442.5 632.8,448 634.1,453.1 635.4,447.2 636.7,450.4 638,447.2 639.2,451.1 640.5,452.4 641.8,454.8 643.1,451.2 644.4,454.7 645.7,453.4 647,450.9 648.3,458.1 649.6,452.3 650.9,454.8 652.2,468.6 653.5,459.8 654.8,452.5 656.1,455.6 657.4,452.7 658.6,453.5 659.9,448.2 661.2,453.9 662.5,447.1 663.8,452.6 665.1,452.6 666.4,453.4 667.7,457.7 669,443 669.3,553"/>
<polyline stroke="#8000ff" points="151.5,-46.8 152.8,-34.8 154.1,-28.6 155.4,-24.5 156.7,-13.5 158,-2.4 159.3,3 160.6,15.2 161.8,19.7 163.1,28.2 164.4,32.9 165.7,42.3 167,51.8 168.3,61.6 169.6,68.8 170.9,78.6 172.2,79.6 173.5,91.6 174.8,99.7 176.1,105.8 177.4,115.9 178.7,122.7 180,133.2 181.3,139.7 182.6,149.1 183.8,154 185.1,166.3 186.4,172.6 187.7,183 189,186.4 190.3,191.9 191.6,199.5 192.9,204.3 194.2,208.6 195.5,216.4 196.8,221.7 198.1,225.6 199.4,231 200.7,233.4 202,241.6 203.2,243 204.5,254.1 205.8,255.3 207.1,261.4 208.4,261 209.7,268.5 211,272.4 212.3,279.8 213.6,284.6 214.9,283.4 216.2,294 217.5,292.7 218.8,302.9 220.1,304 221.4,304.2 222.7,311.5 223.9,313.2 225.2,313.3 226.5,316.3 227.8,322 229.1,320.5 230.4,323.8 231.7,333.2 233,328.9 234.3,334.5 235.6,337.6 236.9,341.6 238.2,344.3 239.5,335.1 240.8,345.5 242.1,355.7 243.4,352.1 244.6,362.5 245.9,362.4 247.2,361.1 248.5,367.7 249.8,373.8 251.1,368.2 252.4,373 253.7,371 255,372.7 256.3,375.9 257.6,378.5 258.9,379.7 260.2,381.2 261.5,388.4 262.8,381.8 264.1,380.7 265.4,388.7 266.6,390.5 267.9,388.2 269.2,397.9 270.5,394.4 271.8,393.7 273.1,400 274.4,403.9 275.7,409.5 277,401.5 278.3,402.7 279.6,406.9 280.9,408.4 282.2,410.8 283.5,410.7 284.8,409.6 286,413.5 287.3,418.1 288.6,419.9 289.9,417.4 291.2,422 292.5,422.3 293.8,420.8 295.1,421.8 296.4,423.6 297.7,431.7 299,426.5 300.3,422.5 301.6,425.9 302.9,425.9 304.2,430.9 305.5,423.4 306.8,425.7 308,431.4 309.3,431.2 310.6,430.3 311.9,431.9 313.2,424.7 314.5,430.6 315.8,426.6 317.1,425.6 318.4,429.9 319.7,426.7 321,427.2 322.3,429.6 323.6,425.2 324.9,428.8 326.2,436.5 327.4,427.2 328.7,429.1 330,428.5 331.3,422.8 332.6,421.5 333.9,424.8 335.2,419.4 336.5,424.5 337.8,425.8 339.1,426.7 340.4,427.1 341.7,430 343,426.5 344.3,431.1 345.6,430.1 346.9,430.6 348.1,429.5 349.4,434.3 350.7,429.4 352,433.2 353.3,435.2 354.6,431.2 355.9,430.5 357.2,431.4 358.5,434 359.8,435.8 361.1,437.9 362.4,441.4 363.7,441.6 365,438.5 366.3,436.9 367.6,435.1 368.9,440.7 370.1,441.1 371.4,439.2 372.7,440.2 374,440.9 375.3,435 376.6,441.5 377.9,443.8 379.2,443.4 380.5,441.3 381.8,444.5 383.1,446.6 384.4,450.8 385.7,451.4 387,450.1 388.3,447.8 389.5,444.6 390.8,447 392.1,445.4 393.4,448.9 394.7,453 396,454 397.3,454.3 398.6,452.5 399.9,456.9 401.2,453.2 402.5,449 403.8,455 405.1,456 406.4,452.2 407.7,455 409,451.8 410.2,457.3 411.5,463.1 412.8,459.4 414.1,464.6 415.4,463 416.7,460.1 418,457.2 419.3,463.6 420.6,464.3 421.9,456.6 423.2,460.7 424.5,465.3 425.8,461 427.1,463.6 428.4,457.8 429.7,459.9 430.9,464.6 432.2,460.2 433.5,459.2 434.8,459.3 436.1,462.1 437.4,459.4 438.7,463.1 440,465.5 441.3,468.5 442.6,463.8 443.9,468.8 445.2,466.7 446.5,464.5 447.8,466.3 449.1,469.3 450.4,469.7 451.6,467.9 452.9,465.6 454.2,469.1 455.5,467.1 456.8,466.4 458.1,466.7 459.4,471 460.7,463.6 462,465.9 463.3,463.6 464.6,468.7 465.9,470.1 467.2,471.2 468.5,467.3 469.8,468.6 471.1,471.4 472.3,471.2 473.6,472.4 474.9,473.4 476.2,474.7 477.5,474.8 478.8,477.4 480.1,471.6 481.4,476.6 482.7,475.7 484,480 485.3,479.9 486.6,484.3 487.9,489.6 489.2,482.6 490.5,483.7 491.8,487.3 493.1,490.9 494.3,489.5 495.6,488.2 496.9,486.1 498.2,483.5 499.5,485.1 500.8,484.6 502.1,482.6 503.4,479.3 504.7,475.2 506,475.8 507.3,476.3 508.6,472 509.9,476.5 511.2,471.9 512.5,473.7 513.8,475.1 515,477.2 516.3,474.2 517.6,476 518.9,471 520.2,469.4 521.5,473.7 522.8,468.7 524.1,469.6 525.4,465.1 526.7,473.4 528,471.4 529.3,466.9 530.6,463.4 531.9,468 533.2,468.3 534.5,470.4 535.7,472.1 537,467.8 538.3,465.5 539.6,464.9 540.9,464.6 542.2,461.5 543.5,460.8 544.8,463.8 546.1,459.8 547.4,459.8 548.7,466.2 550,461.7 551.3,464.8 552.6,465.6 553.9,462.5 555.1,464 556.4,461.1 557.7,458.6 559,459.9 560.3,460 561.6,459.8 562.9,458.9 564.2,457 565.5,460.1 566.8,456.7 568.1,454.8 569.4,458.4 570.7,453.6 572,455.6 573.3,459.6 574.6,456.2 575.8,459.3 577.1,454.8 578.4,453.9 579.7,454.6 581,453.6 582.3,454 583.6,453.8 584.9,457.1 586.2,456.6 587.5,455.4 588.8,454.3 590.1,465.5 591.4,458.4 592.7,464.8 594,456.9 595.3,457.8 596.5,465.8 597.8,458.5 599.1,457.8 600.4,460.5 601.7,458.8 603,459.3 604.3,460.9 605.6,464.4 606.9,461.1 608.2,460.7 609.5,463.5 610.8,466.2 612.1,458.4 613.4,449.4 614.7,451.9 616,459.9 617.2,455.4 618.5,453.5 619.8,453.4 621.1,459.3 622.4,454.4 623.7,451.6 625,448.3 626.3,447.1 627.6,459.4 628.9,450.7 630.2,449.7 631.5,447.3 632.8,453.1 634.1,443.9 635.4,438.9 636.7,442.4 638,445.6 639.2,452.5 640.5,444.9 641.8,441.2 643.1,443 644.4,439.7 645.7,440.8 647,444.1 648.3,445.3 649.6,441.9 650.9,448 652.2,444.4 653.5,445 654.8,442.3 656.1,445.3 657.4,445.7 658.6,446.7 659.9,441 661.2,445.7 662.5,441.5 663.8,443.3 665.1,445.8 666.4,448.8 667.7,441.5 669,437.9 669.3,545"/>
</g>
<path d="M151.5,92.6 H734.5 V570" fill="none" stroke="#a8a8a8" stroke-width="1.3"/>
<path d="M151.5,92 V570 H735.5" fill="none" stroke="#000" stroke-width="2.2" stroke-linejoin="miter"/>
<path d="M151.5,570v10M280.9,570v10M410.2,570v10M539.6,570v10M669,570v10M216.2,570v5M345.6,570v5M474.9,570v5M604.3,570v5M733.7,570v5M151.5,570h-10M151.5,411h-10M151.5,252h-10M151.5,93h-10M151.5,490.5h-5M151.5,331.5h-5M151.5,172.5h-5" fill="none" stroke="#000" stroke-width="2.2"/>
<text transform="translate(151.5 620) scale(1 1.04)" font-size="42" text-anchor="middle">400</text>
<text transform="translate(280.9 620) scale(1 1.04)" font-size="42" text-anchor="middle">500</text>
<text transform="translate(410.2 620) scale(1 1.04)" font-size="42" text-anchor="middle">600</text>
<text transform="translate(539.6 620) scale(1 1.04)" font-size="42" text-anchor="middle">700</text>
<text transform="translate(669 620) scale(1 1.04)" font-size="42" text-anchor="middle">800</text>
<text transform="translate(134.5 582.3) scale(1 1.04)" font-size="42" text-anchor="end">0.00</text>
<text transform="translate(134.5 423.3) scale(1 1.04)" font-size="42" text-anchor="end">0.05</text>
<text transform="translate(134.5 264.3) scale(1 1.04)" font-size="42" text-anchor="end">0.10</text>
<text transform="translate(134.5 105.3) scale(1 1.04)" font-size="42" text-anchor="end">0.15</text>
<text transform="translate(444 667) scale(1 1.04)" font-size="42.2" text-anchor="middle">Wavelength (nm)</text>
<text transform="translate(58 315.5) rotate(-90) scale(1 1.04)" font-size="42" text-anchor="middle">Abs</text>
<text transform="translate(-3.4 70) scale(1 1)" font-size="83" text-anchor="start">a</text>
<line x1="291.9" x2="349.3" y1="114.4" y2="114.4" stroke="#000000" stroke-width="2.5"/>
<text transform="translate(355.8 123.5) scale(1 1.04)" font-size="26" text-anchor="start">0 min</text>
<line x1="291.9" x2="349.3" y1="146.9" y2="146.9" stroke="#ff0000" stroke-width="2.5"/>
<text transform="translate(355.8 156) scale(1 1.04)" font-size="26" text-anchor="start">30 min</text>
<line x1="291.9" x2="349.3" y1="179.5" y2="179.5" stroke="#0000ff" stroke-width="2.5"/>
<text transform="translate(355.8 188.6) scale(1 1.04)" font-size="26" text-anchor="start">60 min</text>
<line x1="291.9" x2="349.3" y1="212.1" y2="212.1" stroke="#ff00ff" stroke-width="2.5"/>
<text transform="translate(355.8 221.2) scale(1 1.04)" font-size="26" text-anchor="start">90 min</text>
<line x1="291.9" x2="349.3" y1="244.6" y2="244.6" stroke="#008000" stroke-width="2.5"/>
<text transform="translate(355.8 253.7) scale(1 1.04)" font-size="26" text-anchor="start">120 min</text>
<line x1="291.9" x2="349.3" y1="277.1" y2="277.1" stroke="#000080" stroke-width="2.5"/>
<text transform="translate(355.8 286.2) scale(1 1.04)" font-size="26" text-anchor="start">150 min</text>
<line x1="291.9" x2="349.3" y1="309.7" y2="309.7" stroke="#8000ff" stroke-width="2.5"/>
<text transform="translate(355.8 318.8) scale(1 1.04)" font-size="26" text-anchor="start">180 min</text>
</g>
<g id="panel-b">
<g clip-path="url(#cb)" fill="none" stroke-width="2.6" stroke-linejoin="miter" stroke-miterlimit="4">
<polyline stroke="#000000" points="1015.4,102.6 1016.7,100.1 1018.1,110.6 1019.4,110 1020.8,110 1022.1,121.5 1023.4,121 1024.8,130.3 1026.1,124.1 1027.5,139.1 1028.8,137.8 1030.1,138.8 1031.5,141.5 1032.8,140.1 1034.2,148.1 1035.5,152.5 1036.8,158.9 1038.2,163.9 1039.5,168.8 1040.9,177.5 1042.2,181.5 1043.5,181.5 1044.9,181.7 1046.2,181.8 1047.6,186.1 1048.9,190 1050.2,188.2 1051.6,188.4 1052.9,199.3 1054.3,192.3 1055.6,197.9 1056.9,198.8 1058.3,205.5 1059.6,201.4 1061,197.7 1062.3,199.5 1063.6,203.9 1065,205.5 1066.3,206.2 1067.7,209.8 1069,211.1 1070.4,214.9 1071.7,220.4 1073,222.8 1074.4,226.1 1075.7,225.3 1077.1,233.7 1078.4,227.3 1079.7,234.6 1081.1,235.9 1082.4,240 1083.8,241.1 1085.1,235.2 1086.4,240.5 1087.8,242.8 1089.1,244.8 1090.5,245.4 1091.8,244.4 1093.1,251.4 1094.5,251.1 1095.8,252.6 1097.2,256.9 1098.5,257.7 1099.8,258.7 1101.2,262 1102.5,269.8 1103.9,265.6 1105.2,265.3 1106.5,264.7 1107.9,267.6 1109.2,264.9 1110.6,270.2 1111.9,272 1113.2,273.9 1114.6,277.6 1115.9,278.6 1117.3,283 1118.6,284.7 1119.9,285.7 1121.3,284.8 1122.6,287.4 1124,285.4 1125.3,289.3 1126.6,286.4 1128,289.9 1129.3,287.9 1130.7,287.2 1132,284.8 1133.3,289.1 1134.7,289.2 1136,288.7 1137.4,289.8 1138.7,289.6 1140,287.1 1141.4,286.3 1142.7,291.1 1144.1,290.7 1145.4,294.2 1146.7,295.9 1148.1,294.3 1149.4,292.3 1150.8,291.7 1152.1,290.3 1153.4,287.2 1154.8,282.3 1156.1,290.3 1157.5,291.5 1158.8,289 1160.1,288.6 1161.5,290.2 1162.8,289.6 1164.2,286.8 1165.5,284.4 1166.8,285.4 1168.2,285.1 1169.5,287.8 1170.9,279.3 1172.2,282.2 1173.5,277.6 1174.9,277.6 1176.2,284.4 1177.6,277.5 1178.9,277 1180.3,275.5 1181.6,278.8 1182.9,275.8 1184.3,270.1 1185.6,276.7 1187,279.9 1188.3,278.9 1189.6,280.6 1191,279.3 1192.3,278.4 1193.7,283 1195,280.3 1196.3,284.8 1197.7,284.3 1199,289.3 1200.4,294.4 1201.7,294.7 1203,301 1204.4,299.5 1205.7,299.3 1207.1,298.6 1208.4,302.3 1209.7,300.7 1211.1,306.9 1212.4,301.8 1213.8,304.6 1215.1,308.4 1216.4,309.3 1217.8,316.6 1219.1,317.5 1220.5,320.1 1221.8,324.8 1223.1,316.4 1224.5,324.9 1225.8,328.8 1227.2,332.2 1228.5,331.8 1229.8,330.6 1231.2,335.7 1232.5,338.9 1233.9,342.5 1235.2,347.1 1236.5,339.8 1237.9,344.3 1239.2,343.1 1240.6,340.9 1241.9,346.2 1243.2,349.3 1244.6,340.9 1245.9,351.9 1247.3,345.9 1248.6,351.8 1249.9,349.1 1251.3,348.7 1252.6,354 1254,347.8 1255.3,353.9 1256.6,345.5 1258,346.9 1259.3,346 1260.7,350.5 1262,349.9 1263.3,352.7 1264.7,354.5 1266,354.7 1267.4,356.1 1268.7,356.9 1270,354.4 1271.4,352.6 1272.7,351.8 1274.1,355.8 1275.4,352.5 1276.7,350.2 1278.1,349.4 1279.4,350.1 1280.8,350.6 1282.1,348.8 1283.5,344.8 1284.8,349.6 1286.1,342.8 1287.5,346.7 1288.8,350.6 1290.2,349.3 1291.5,352.7 1292.8,348.4 1294.2,348.9 1295.5,347.4 1296.9,345 1298.2,347.6 1299.5,348.4 1300.9,340.4 1302.2,341.8 1303.6,338 1304.9,339.8 1306.2,338.4 1307.6,338.7 1308.9,339 1310.3,341.2 1311.6,341.1 1312.9,334.6 1314.3,333.4 1315.6,335 1317,330.6 1318.3,329.5 1319.6,324.4 1321,329.1 1322.3,327.1 1323.7,322.3 1325,319.3 1326.3,318 1327.7,320 1329,315.7 1330.4,309.1 1331.7,310.1 1333,311.3 1334.4,310.5 1335.7,308.8 1337.1,303.7 1338.4,302 1339.7,299.9 1341.1,299.1 1342.4,297.2 1343.8,291.4 1345.1,289.8 1346.4,289 1347.8,290.2 1349.1,285.9 1350.5,283.4 1351.8,286.5 1353.1,286.9 1354.5,279.9 1355.8,280.2 1357.2,282.9 1358.5,278.6 1359.8,282.2 1361.2,274.8 1362.5,276.4 1363.9,278.2 1365.2,282.1 1366.5,278.2 1367.9,270.1 1369.2,268.3 1370.6,268.6 1371.9,271.6 1373.2,271.2 1374.6,269.4 1375.9,266.2 1377.3,260.5 1378.6,257.9 1379.9,252.3 1381.3,251.5 1382.6,241.6 1384,240.6 1385.3,238.4 1386.6,238.3 1388,231 1389.3,231 1390.7,225.3 1392,227.5 1393.4,221.1 1394.7,218 1396,212.9 1397.4,213 1398.7,212.2 1400.1,211.7 1401.4,215.9 1402.7,210.5 1404.1,212.8 1405.4,214.4 1406.8,209.2 1408.1,205.5 1409.4,211.1 1410.8,205.4 1412.1,205.6 1413.5,205.8 1414.8,205.2 1416.1,202 1417.5,198.9 1418.8,201.5 1420.2,198.7 1421.5,201.1 1422.8,192.8 1424.2,192.5 1425.5,191.1 1426.9,190.9 1428.2,188.3 1429.5,185.5 1430.9,188 1432.2,180.7 1433.6,179.2 1434.9,176.3 1436.2,172.2 1437.6,173.4 1438.9,165 1440.3,169.9 1441.6,162 1442.9,162.8 1444.3,163 1445.6,161.1 1447,160.6 1448.3,164.8 1449.6,168.2 1451,165 1452.3,162.3 1453.7,159.9 1455,159.3 1456.3,164.5 1457.7,164.7 1459,166.4 1460.4,166.3 1461.7,167.8 1463,162.5 1464.4,162.9 1465.7,161.6 1467.1,166.8 1468.4,168.1 1469.7,170.4 1471.1,168.1 1472.4,173.2 1473.8,177.1 1475.1,177 1476.4,170.3 1477.8,179.4 1479.1,181.2 1480.5,186.8 1481.8,185.2 1483.1,188.3 1484.5,186 1485.8,188.6 1487.2,191.5 1488.5,188.4 1489.8,190.8 1491.2,191.8 1492.5,196.6 1493.9,199 1495.2,205 1496.5,198.7 1497.9,203.3 1499.2,207.6 1500.6,207.6 1501.9,201.7 1503.3,201.6 1504.6,205.9 1505.9,206.4 1507.3,208.5 1508.6,210 1510,213.5 1511.3,220 1512.6,215 1514,213.3 1515.3,222.4 1516.7,217.3 1518,222.3 1519.3,218.3 1520.7,216.8 1522,227.2 1523.4,225.1 1524.7,223.6 1526,231.5 1527.4,235.1 1528.7,237 1530.1,239.9 1531.4,236.7 1532.7,239.9 1534.1,245.5 1535.4,247 1536.8,246.2 1538.1,243.9 1539.4,240.3 1540.8,253.4 1542.1,246.3 1543.5,248.6 1544.8,251.2 1546.1,253.7 1547.5,252.9 1548.8,250.3 1550.2,253.3 1551.5,261.8"/>
<polyline stroke="#ff0000" points="1015.4,-159.9 1016.7,-142.7 1018.1,-127.6 1019.4,-110.2 1020.8,-94.5 1022.1,-80.5 1023.4,-67.5 1024.8,-52.4 1026.1,-41.1 1027.5,-25.5 1028.8,-11.5 1030.1,0.2 1031.5,13.6 1032.8,25.9 1034.2,38.7 1035.5,47.6 1036.8,57.7 1038.2,69.7 1039.5,86.8 1040.9,102 1042.2,111.7 1043.5,117.7 1044.9,122.8 1046.2,128.9 1047.6,137 1048.9,145.6 1050.2,154.9 1051.6,164 1052.9,175.8 1054.3,186.9 1055.6,199.7 1056.9,211.6 1058.3,218.1 1059.6,221 1061,223.3 1062.3,228.1 1063.6,234.8 1065,241.9 1066.3,249.1 1067.7,256.6 1069,262.9 1070.4,266.2 1071.7,273.5 1073,278 1074.4,279.9 1075.7,281.8 1077.1,284.6 1078.4,285.5 1079.7,289 1081.1,291.2 1082.4,295.3 1083.8,299.4 1085.1,306 1086.4,308.1 1087.8,312.7 1089.1,315.2 1090.5,319.9 1091.8,322.8 1093.1,321.8 1094.5,324.6 1095.8,329.1 1097.2,331.4 1098.5,336.2 1099.8,339.5 1101.2,341.2 1102.5,345.2 1103.9,349.4 1105.2,351.4 1106.5,354.2 1107.9,357.1 1109.2,358.7 1110.6,363.5 1111.9,361.7 1113.2,366.6 1114.6,367.6 1115.9,371.6 1117.3,376.2 1118.6,377.7 1119.9,380.2 1121.3,382.9 1122.6,384.8 1124,385.4 1125.3,389.4 1126.6,392.2 1128,394.1 1129.3,394.6 1130.7,396.3 1132,392.6 1133.3,396.4 1134.7,399.7 1136,404.3 1137.4,406.5 1138.7,405.3 1140,403 1141.4,407.7 1142.7,410.5 1144.1,411.2 1145.4,408.5 1146.7,408.2 1148.1,409.4 1149.4,409.9 1150.8,417.3 1152.1,416.3 1153.4,424.1 1154.8,421.5 1156.1,421.8 1157.5,417.1 1158.8,420.9 1160.1,422.1 1161.5,419.2 1162.8,421 1164.2,424.6 1165.5,431.9 1166.8,429.8 1168.2,428.8 1169.5,433.2 1170.9,435.9 1172.2,432.5 1173.5,443.3 1174.9,436 1176.2,440.1 1177.6,441 1178.9,436.7 1180.3,437.7 1181.6,437.8 1182.9,436.3 1184.3,439.1 1185.6,435.7 1187,429.8 1188.3,432.6 1189.6,428.8 1191,429.4 1192.3,429.9 1193.7,427.9 1195,429.2 1196.3,425.4 1197.7,422.5 1199,426.4 1200.4,423.3 1201.7,419.7 1203,418.4 1204.4,415.4 1205.7,415.5 1207.1,410.4 1208.4,416.8 1209.7,415.4 1211.1,403 1212.4,407.6 1213.8,410.5 1215.1,409.3 1216.4,405.5 1217.8,412.1 1219.1,408.2 1220.5,412.4 1221.8,412.3 1223.1,415 1224.5,409.5 1225.8,416.4 1227.2,410.5 1228.5,417.9 1229.8,420.5 1231.2,419.6 1232.5,416.3 1233.9,423.7 1235.2,423.3 1236.5,417.8 1237.9,415.5 1239.2,420.7 1240.6,421.4 1241.9,427.1 1243.2,426 1244.6,427 1245.9,425.8 1247.3,430.2 1248.6,427.9 1249.9,426.4 1251.3,425.5 1252.6,434.5 1254,434.5 1255.3,433.5 1256.6,437.3 1258,440 1259.3,445.9 1260.7,439.7 1262,444.4 1263.3,448.8 1264.7,449.6 1266,451.5 1267.4,455.5 1268.7,449.8 1270,450.7 1271.4,456 1272.7,461.3 1274.1,458 1275.4,456.5 1276.7,455.3 1278.1,460.7 1279.4,462.2 1280.8,459.3 1282.1,460.6 1283.5,459.9 1284.8,466 1286.1,465.8 1287.5,471.9 1288.8,474 1290.2,471.1 1291.5,473.2 1292.8,475.4 1294.2,476.1 1295.5,471.9 1296.9,474.8 1298.2,478.8 1299.5,476.9 1300.9,474.5 1302.2,476.8 1303.6,482.3 1304.9,476.5 1306.2,476.4 1307.6,481.1 1308.9,479.4 1310.3,477.1 1311.6,477.7 1312.9,482.6 1314.3,482.1 1315.6,487.8 1317,483.6 1318.3,481.4 1319.6,483 1321,482.3 1322.3,488.5 1323.7,484.6 1325,490.1 1326.3,488.7 1327.7,492.5 1329,488 1330.4,490.2 1331.7,483.4 1333,487 1334.4,487.2 1335.7,492.4 1337.1,490.2 1338.4,492.4 1339.7,489.7 1341.1,488.4 1342.4,491.8 1343.8,496.3 1345.1,494.1 1346.4,498.6 1347.8,495.2 1349.1,495.3 1350.5,496.6 1351.8,497.9 1353.1,497.9 1354.5,499.9 1355.8,499.6 1357.2,499.8 1358.5,507.2 1359.8,507.5 1361.2,505.6 1362.5,505.6 1363.9,504 1365.2,509.8 1366.5,506.9 1367.9,513.9 1369.2,505.2 1370.6,509 1371.9,511 1373.2,506.2 1374.6,514.3 1375.9,508.9 1377.3,507.4 1378.6,501.8 1379.9,505.1 1381.3,504.5 1382.6,501.2 1384,503.9 1385.3,499.4 1386.6,491.2 1388,495.7 1389.3,498.8 1390.7,492.3 1392,494.1 1393.4,489.3 1394.7,490.2 1396,479.1 1397.4,482.9 1398.7,486.5 1400.1,485.4 1401.4,481.3 1402.7,487.7 1404.1,485.7 1405.4,481.4 1406.8,476.9 1408.1,482.1 1409.4,479 1410.8,480.8 1412.1,481.3 1413.5,476.6 1414.8,476.2 1416.1,478.5 1417.5,476.2 1418.8,471.7 1420.2,478 1421.5,478.3 1422.8,476.4 1424.2,479.3 1425.5,477.7 1426.9,477.8 1428.2,481.3 1429.5,476.5 1430.9,475.6 1432.2,479.4 1433.6,477.2 1434.9,482.8 1436.2,479.6 1437.6,477 1438.9,480.4 1440.3,476.4 1441.6,485.2 1442.9,482.9 1444.3,484.5 1445.6,484.3 1447,483.4 1448.3,480.2 1449.6,484.4 1451,482.1 1452.3,480.7 1453.7,477.3 1455,485.3 1456.3,482.5 1457.7,481.7 1459,477.8 1460.4,484.5 1461.7,482.6 1463,485.1 1464.4,482.6 1465.7,480.1 1467.1,484.1 1468.4,478.2 1469.7,477.3 1471.1,480.6 1472.4,482.5 1473.8,483 1475.1,479 1476.4,477.6 1477.8,477.2 1479.1,474.9 1480.5,472.6 1481.8,473.1 1483.1,467.8 1484.5,465.1 1485.8,466 1487.2,460.7 1488.5,455.8 1489.8,457.2 1491.2,453.4 1492.5,454.5 1493.9,449 1495.2,447.5 1496.5,444.3 1497.9,450.7 1499.2,451.1 1500.6,449.2 1501.9,444.8 1503.3,442.1 1504.6,438.6 1505.9,439.1 1507.3,434.9 1508.6,429.9 1510,436.1 1511.3,434.6 1512.6,429.7 1514,425.2 1515.3,422.1 1516.7,422 1518,421 1519.3,415.1 1520.7,415.9 1522,411.1 1523.4,419.5 1524.7,411.1 1526,409.9 1527.4,410.2 1528.7,413 1530.1,408.6 1531.4,419.6 1532.7,412.7 1534.1,395 1535.4,405.5 1536.8,406.1 1538.1,397.4 1539.4,402.5 1540.8,403.7 1542.1,401.5 1543.5,403.3 1544.8,405.3 1546.1,403 1547.5,404.9 1548.8,402 1550.2,409 1551.5,406.6"/>
<polyline stroke="#0000ff" points="1015.4,-302.3 1016.7,-289.5 1018.1,-277.2 1019.4,-267.1 1020.8,-253.8 1022.1,-241.8 1023.4,-229.4 1024.8,-217.5 1026.1,-206 1027.5,-194.1 1028.8,-180.5 1030.1,-167.9 1031.5,-153.5 1032.8,-141.8 1034.2,-128.4 1035.5,-115.5 1036.8,-103.8 1038.2,-88.7 1039.5,-76.1 1040.9,-63.6 1042.2,-48.7 1043.5,-34.3 1044.9,-21.6 1046.2,-8.2 1047.6,5.3 1048.9,20.1 1050.2,36.3 1051.6,50.4 1052.9,64.6 1054.3,77.7 1055.6,87.1 1056.9,101.2 1058.3,113.4 1059.6,125 1061,135.2 1062.3,148.9 1063.6,162.7 1065,174.3 1066.3,184.7 1067.7,191.7 1069,200 1070.4,207.6 1071.7,212.9 1073,220 1074.4,226.3 1075.7,233.3 1077.1,238.6 1078.4,245.2 1079.7,251.4 1081.1,259.3 1082.4,265.5 1083.8,269.2 1085.1,274.1 1086.4,280.4 1087.8,286.8 1089.1,291.5 1090.5,297.3 1091.8,302.9 1093.1,308.6 1094.5,313 1095.8,318.6 1097.2,323.2 1098.5,326.7 1099.8,333 1101.2,333.9 1102.5,338.3 1103.9,341.5 1105.2,347.9 1106.5,352 1107.9,353 1109.2,357.5 1110.6,360.3 1111.9,362.1 1113.2,366.1 1114.6,371.3 1115.9,375.1 1117.3,375.3 1118.6,379.9 1119.9,384.5 1121.3,388.6 1122.6,389.5 1124,389.7 1125.3,390.5 1126.6,396.1 1128,398.1 1129.3,399.9 1130.7,402 1132,404.6 1133.3,408.6 1134.7,412.3 1136,411.3 1137.4,419.1 1138.7,422.5 1140,419 1141.4,421.3 1142.7,425.7 1144.1,422 1145.4,423.6 1146.7,425 1148.1,425.6 1149.4,431.9 1150.8,431.1 1152.1,433.1 1153.4,434.8 1154.8,435.9 1156.1,441.4 1157.5,439.9 1158.8,439.7 1160.1,440.2 1161.5,443.6 1162.8,448.2 1164.2,451.3 1165.5,454.4 1166.8,455.3 1168.2,458.8 1169.5,459.8 1170.9,456.8 1172.2,460.6 1173.5,461.6 1174.9,460.5 1176.2,463.8 1177.6,462.1 1178.9,460.1 1180.3,463.7 1181.6,466 1182.9,459.7 1184.3,461.4 1185.6,463.7 1187,463.4 1188.3,464.3 1189.6,465.1 1191,458.1 1192.3,463.2 1193.7,456.6 1195,456 1196.3,454.1 1197.7,456.5 1199,449.8 1200.4,451.7 1201.7,447.3 1203,453.8 1204.4,447.9 1205.7,447.4 1207.1,442.4 1208.4,443.2 1209.7,447.7 1211.1,445.5 1212.4,441.9 1213.8,442.4 1215.1,443.8 1216.4,450.9 1217.8,445.3 1219.1,446.4 1220.5,448.2 1221.8,451.7 1223.1,448.5 1224.5,444.5 1225.8,444.5 1227.2,453.1 1228.5,449.3 1229.8,443.9 1231.2,446.1 1232.5,447.6 1233.9,448.4 1235.2,451.2 1236.5,452.1 1237.9,454.2 1239.2,447.6 1240.6,452.8 1241.9,452.6 1243.2,450.2 1244.6,456.7 1245.9,453.9 1247.3,454.7 1248.6,463.1 1249.9,462.7 1251.3,464.7 1252.6,467.1 1254,462.3 1255.3,468.6 1256.6,467.2 1258,468.8 1259.3,470.4 1260.7,470.9 1262,469.5 1263.3,471 1264.7,472.5 1266,475.7 1267.4,469.6 1268.7,480 1270,475.1 1271.4,482.7 1272.7,480.7 1274.1,484.3 1275.4,481.1 1276.7,486.2 1278.1,484.8 1279.4,485.7 1280.8,486.8 1282.1,481 1283.5,483.4 1284.8,484 1286.1,488.6 1287.5,488.6 1288.8,491.3 1290.2,490.7 1291.5,492.8 1292.8,488.7 1294.2,490.8 1295.5,489.2 1296.9,486.2 1298.2,486.1 1299.5,490.2 1300.9,489.2 1302.2,490.6 1303.6,490.5 1304.9,491 1306.2,501.1 1307.6,496.8 1308.9,494.2 1310.3,497.4 1311.6,499.1 1312.9,496.7 1314.3,503.2 1315.6,500.4 1317,504.5 1318.3,503.7 1319.6,503.7 1321,513.7 1322.3,506.5 1323.7,503.6 1325,505.6 1326.3,503.4 1327.7,509.2 1329,508.9 1330.4,504.7 1331.7,511 1333,507.1 1334.4,504.1 1335.7,509.3 1337.1,509 1338.4,505.2 1339.7,504.8 1341.1,507.4 1342.4,507 1343.8,510.4 1345.1,510.9 1346.4,508.2 1347.8,508.9 1349.1,511.7 1350.5,516.8 1351.8,514.6 1353.1,519.1 1354.5,518.8 1355.8,523.1 1357.2,523 1358.5,526.5 1359.8,523.8 1361.2,526.3 1362.5,533.8 1363.9,533.1 1365.2,526.6 1366.5,533 1367.9,530.3 1369.2,533 1370.6,526.4 1371.9,527.8 1373.2,526.4 1374.6,524.8 1375.9,522.7 1377.3,528.9 1378.6,524.3 1379.9,522 1381.3,517.6 1382.6,522.5 1384,522 1385.3,517.6 1386.6,513.6 1388,516.6 1389.3,514.6 1390.7,509.9 1392,516.4 1393.4,513 1394.7,506.2 1396,506.3 1397.4,509.2 1398.7,511.3 1400.1,508.1 1401.4,506.9 1402.7,504.1 1404.1,508.9 1405.4,503.3 1406.8,504 1408.1,504.5 1409.4,503.2 1410.8,506.8 1412.1,508.4 1413.5,500.2 1414.8,504.4 1416.1,508.8 1417.5,510.1 1418.8,506.3 1420.2,508.8 1421.5,508.3 1422.8,508.4 1424.2,506.9 1425.5,510.8 1426.9,512 1428.2,513.4 1429.5,510.7 1430.9,510.4 1432.2,513 1433.6,518.8 1434.9,511.6 1436.2,511.7 1437.6,516.7 1438.9,509.9 1440.3,508.1 1441.6,516.7 1442.9,519.3 1444.3,519.8 1445.6,519.2 1447,519.3 1448.3,514.3 1449.6,518.4 1451,514 1452.3,511.9 1453.7,514.6 1455,512.2 1456.3,512.1 1457.7,512.8 1459,513.2 1460.4,514.2 1461.7,511.2 1463,511.3 1464.4,511.7 1465.7,512 1467.1,512.9 1468.4,513.4 1469.7,510.6 1471.1,510.2 1472.4,510 1473.8,507.7 1475.1,507.2 1476.4,503.7 1477.8,505.3 1479.1,506.5 1480.5,501.6 1481.8,505 1483.1,499.5 1484.5,501.4 1485.8,501.4 1487.2,495.8 1488.5,491.6 1489.8,491.7 1491.2,487.9 1492.5,484.9 1493.9,489.1 1495.2,480.6 1496.5,486.8 1497.9,482.2 1499.2,486 1500.6,481 1501.9,487.4 1503.3,480.7 1504.6,473.9 1505.9,487.6 1507.3,479.4 1508.6,476.6 1510,475.1 1511.3,472.3 1512.6,472.4 1514,467.6 1515.3,475 1516.7,465.7 1518,468 1519.3,469.7 1520.7,464 1522,466.2 1523.4,461.1 1524.7,458.3 1526,457.8 1527.4,463.2 1528.7,464.7 1530.1,455.8 1531.4,460.1 1532.7,453.4 1534.1,455.3 1535.4,456.3 1536.8,446.6 1538.1,453.4 1539.4,450.5 1540.8,445.6 1542.1,451.5 1543.5,450.8 1544.8,449.8 1546.1,447.1 1547.5,444.9 1548.8,442 1550.2,444.8 1551.5,442"/>
<polyline stroke="#ff00ff" points="1015.4,-419.7 1016.7,-406.6 1018.1,-391.9 1019.4,-377.8 1020.8,-364.5 1022.1,-348.5 1023.4,-333.3 1024.8,-321 1026.1,-305.2 1027.5,-291.3 1028.8,-276.8 1030.1,-261.9 1031.5,-247.4 1032.8,-234.7 1034.2,-219.3 1035.5,-206.1 1036.8,-195.3 1038.2,-175.9 1039.5,-163 1040.9,-149.3 1042.2,-133.6 1043.5,-120.1 1044.9,-107 1046.2,-92.1 1047.6,-77.9 1048.9,-64.3 1050.2,-53.5 1051.6,-36.2 1052.9,-22.7 1054.3,-8.8 1055.6,6.3 1056.9,22.5 1058.3,33.6 1059.6,48.7 1061,61.1 1062.3,75 1063.6,90.5 1065,106.4 1066.3,119.5 1067.7,131.8 1069,144.3 1070.4,154.6 1071.7,163.9 1073,173.4 1074.4,183.3 1075.7,193 1077.1,200.9 1078.4,209.6 1079.7,217.7 1081.1,225.5 1082.4,232.7 1083.8,240.1 1085.1,250.1 1086.4,255.2 1087.8,261.5 1089.1,266.2 1090.5,271.6 1091.8,279 1093.1,283.1 1094.5,291 1095.8,296.8 1097.2,304.7 1098.5,309.4 1099.8,320.5 1101.2,323.1 1102.5,328.6 1103.9,331.5 1105.2,336.2 1106.5,343.2 1107.9,343.9 1109.2,352.9 1110.6,354.3 1111.9,361 1113.2,362.1 1114.6,366.7 1115.9,370.8 1117.3,376.1 1118.6,376.1 1119.9,382.2 1121.3,385.3 1122.6,389.6 1124,389.2 1125.3,393.8 1126.6,395.3 1128,398.9 1129.3,407 1130.7,409.4 1132,406.7 1133.3,410.8 1134.7,413.8 1136,412.7 1137.4,417.8 1138.7,418.9 1140,425.8 1141.4,424.8 1142.7,433.6 1144.1,427.9 1145.4,436.6 1146.7,440.2 1148.1,439.6 1149.4,438.8 1150.8,445.8 1152.1,444.7 1153.4,452.5 1154.8,452.4 1156.1,453.6 1157.5,455.7 1158.8,460.4 1160.1,459.4 1161.5,462.6 1162.8,464.2 1164.2,463.8 1165.5,469.8 1166.8,473.5 1168.2,474.1 1169.5,472.9 1170.9,475.8 1172.2,473 1173.5,474.8 1174.9,476.2 1176.2,477.4 1177.6,483.1 1178.9,479.7 1180.3,479.8 1181.6,477.4 1182.9,479.4 1184.3,476.9 1185.6,484.9 1187,481.7 1188.3,485.6 1189.6,487.9 1191,483.7 1192.3,483.3 1193.7,482 1195,479.6 1196.3,473.6 1197.7,478 1199,474.8 1200.4,472.3 1201.7,471.9 1203,472.4 1204.4,473.6 1205.7,466.8 1207.1,465.9 1208.4,471.2 1209.7,469.6 1211.1,469.4 1212.4,465.9 1213.8,462 1215.1,468.6 1216.4,469.2 1217.8,464.5 1219.1,467.8 1220.5,470 1221.8,474.9 1223.1,472.9 1224.5,471.8 1225.8,470.5 1227.2,470.5 1228.5,472.3 1229.8,471.5 1231.2,475.5 1232.5,475.5 1233.9,474.8 1235.2,473.3 1236.5,476.7 1237.9,476.6 1239.2,479.9 1240.6,477 1241.9,482 1243.2,482 1244.6,489.3 1245.9,484.9 1247.3,493.7 1248.6,499 1249.9,493.2 1251.3,499 1252.6,498.2 1254,492.4 1255.3,494.2 1256.6,500.8 1258,498.7 1259.3,500.6 1260.7,500.2 1262,503.6 1263.3,500.2 1264.7,498.3 1266,500 1267.4,502.8 1268.7,501.6 1270,504.7 1271.4,505.4 1272.7,506.1 1274.1,507.7 1275.4,507.8 1276.7,512.2 1278.1,511.4 1279.4,513.5 1280.8,508.6 1282.1,512.6 1283.5,512.4 1284.8,509.1 1286.1,520.1 1287.5,513 1288.8,518.6 1290.2,519.7 1291.5,521.6 1292.8,518.1 1294.2,512.6 1295.5,521.2 1296.9,520.8 1298.2,523.4 1299.5,522.1 1300.9,526.3 1302.2,525.3 1303.6,523.3 1304.9,530.9 1306.2,524.1 1307.6,519.4 1308.9,525.5 1310.3,527.5 1311.6,528.4 1312.9,525.9 1314.3,527.3 1315.6,525.6 1317,526.9 1318.3,530.2 1319.6,527.8 1321,531.1 1322.3,529.2 1323.7,530.4 1325,529.5 1326.3,533.6 1327.7,531.6 1329,529.2 1330.4,531.7 1331.7,535.1 1333,533.7 1334.4,529.7 1335.7,530.3 1337.1,528.4 1338.4,536.3 1339.7,534.7 1341.1,536.3 1342.4,538.1 1343.8,534.4 1345.1,538.5 1346.4,536.7 1347.8,538.9 1349.1,534.2 1350.5,540.2 1351.8,541.5 1353.1,542.1 1354.5,545.9 1355.8,543.4 1357.2,546.9 1358.5,542.2 1359.8,548.9 1361.2,549.4 1362.5,556.9 1363.9,554.5 1365.2,556.1 1366.5,547.5 1367.9,554 1369.2,553.6 1370.6,560.8 1371.9,561.1 1373.2,558.8 1374.6,558 1375.9,556.6 1377.3,554.6 1378.6,554.6 1379.9,553.8 1381.3,549.4 1382.6,546.2 1384,550.9 1385.3,544.8 1386.6,542.1 1388,548.8 1389.3,542.5 1390.7,540 1392,535.4 1393.4,534.6 1394.7,539.9 1396,534.9 1397.4,537.3 1398.7,530.6 1400.1,534.1 1401.4,532 1402.7,529.6 1404.1,522.4 1405.4,531.9 1406.8,529.3 1408.1,528.1 1409.4,530.1 1410.8,525.1 1412.1,531.1 1413.5,530.4 1414.8,529.8 1416.1,530.1 1417.5,526.9 1418.8,528.1 1420.2,531 1421.5,527.5 1422.8,532.8 1424.2,532 1425.5,533.4 1426.9,525.8 1428.2,533.1 1429.5,528.5 1430.9,527.2 1432.2,528.3 1433.6,533 1434.9,531 1436.2,531.4 1437.6,532.4 1438.9,532.6 1440.3,533 1441.6,532.6 1442.9,531.7 1444.3,531.7 1445.6,526.9 1447,529.8 1448.3,524.9 1449.6,530.1 1451,531.4 1452.3,528.3 1453.7,528.9 1455,533.8 1456.3,530.6 1457.7,531.1 1459,536.2 1460.4,532.4 1461.7,535 1463,532.4 1464.4,532.3 1465.7,535.5 1467.1,530.3 1468.4,532.1 1469.7,528.9 1471.1,528.4 1472.4,532 1473.8,527.7 1475.1,521.2 1476.4,526.4 1477.8,531.1 1479.1,524.2 1480.5,525.8 1481.8,520.4 1483.1,513.3 1484.5,513.2 1485.8,505.2 1487.2,512.9 1488.5,507.3 1489.8,507.3 1491.2,504.5 1492.5,495.4 1493.9,498.9 1495.2,503 1496.5,501.1 1497.9,495.9 1499.2,493 1500.6,493.7 1501.9,486.3 1503.3,492.1 1504.6,485.4 1505.9,486.7 1507.3,491.5 1508.6,488.3 1510,483.5 1511.3,486.3 1512.6,484.4 1514,485.3 1515.3,487.7 1516.7,482.9 1518,475.6 1519.3,481.8 1520.7,477.2 1522,485.5 1523.4,484.7 1524.7,478.1 1526,478.3 1527.4,470.3 1528.7,467.5 1530.1,471.6 1531.4,473.6 1532.7,479.4 1534.1,468.8 1535.4,465.6 1536.8,464.7 1538.1,464.4 1539.4,467.6 1540.8,459 1542.1,469.1 1543.5,462.6 1544.8,475.2 1546.1,467.7 1547.5,467.7 1548.8,461.1 1550.2,467.6 1551.5,460.2"/>
<polyline stroke="#008000" points="1015.4,-359.7 1016.7,-345.6 1018.1,-332.4 1019.4,-316.9 1020.8,-303.6 1022.1,-289.9 1023.4,-278 1024.8,-263.3 1026.1,-251 1027.5,-236.1 1028.8,-225.6 1030.1,-211 1031.5,-196.9 1032.8,-183.5 1034.2,-168.2 1035.5,-157 1036.8,-143.3 1038.2,-130.6 1039.5,-115.7 1040.9,-102.7 1042.2,-87.7 1043.5,-74.1 1044.9,-63.1 1046.2,-50 1047.6,-34 1048.9,-20.6 1050.2,-8.9 1051.6,5.7 1052.9,18.5 1054.3,34.1 1055.6,45.6 1056.9,59.2 1058.3,72.8 1059.6,84.8 1061,97.4 1062.3,108.8 1063.6,119 1065,132.7 1066.3,145 1067.7,161.2 1069,175.8 1070.4,189.7 1071.7,202.5 1073,212.1 1074.4,222.3 1075.7,230.8 1077.1,239.3 1078.4,246.5 1079.7,252.8 1081.1,260.4 1082.4,264.4 1083.8,269.6 1085.1,277.7 1086.4,286.8 1087.8,292.2 1089.1,298.2 1090.5,304.8 1091.8,312.7 1093.1,318.6 1094.5,326 1095.8,330.2 1097.2,337.1 1098.5,340.5 1099.8,347.7 1101.2,358.4 1102.5,357.2 1103.9,361.5 1105.2,367.8 1106.5,369.5 1107.9,374.4 1109.2,378.1 1110.6,384 1111.9,384.3 1113.2,394 1114.6,396.4 1115.9,400.1 1117.3,403.2 1118.6,407 1119.9,406.2 1121.3,417.6 1122.6,416.2 1124,422.4 1125.3,424 1126.6,426.8 1128,431.4 1129.3,437.3 1130.7,436.6 1132,438.1 1133.3,443.4 1134.7,439.6 1136,445.8 1137.4,448.9 1138.7,453.4 1140,454 1141.4,461.8 1142.7,461.8 1144.1,465.4 1145.4,467.4 1146.7,468.7 1148.1,468.9 1149.4,478 1150.8,477.9 1152.1,481.2 1153.4,479.3 1154.8,481.9 1156.1,484.2 1157.5,484.7 1158.8,487.3 1160.1,485.6 1161.5,488.2 1162.8,490.8 1164.2,492.2 1165.5,497.8 1166.8,499.9 1168.2,502 1169.5,502.3 1170.9,507 1172.2,509.9 1173.5,509.4 1174.9,507.9 1176.2,512.8 1177.6,507.1 1178.9,505.6 1180.3,506.5 1181.6,514.6 1182.9,511.5 1184.3,509.6 1185.6,505.2 1187,509.8 1188.3,508.4 1189.6,505.3 1191,512.2 1192.3,510.1 1193.7,512.6 1195,508.9 1196.3,509.3 1197.7,505.8 1199,508 1200.4,505.1 1201.7,506.4 1203,504.9 1204.4,500.7 1205.7,502.2 1207.1,502.1 1208.4,499.5 1209.7,500 1211.1,502.3 1212.4,502.9 1213.8,499.9 1215.1,490.6 1216.4,499.9 1217.8,503.8 1219.1,499.6 1220.5,498 1221.8,501.2 1223.1,501.9 1224.5,504.3 1225.8,501.5 1227.2,507.5 1228.5,506.7 1229.8,502.4 1231.2,507.3 1232.5,505.3 1233.9,507.7 1235.2,507.6 1236.5,507.3 1237.9,508.3 1239.2,507.1 1240.6,506.8 1241.9,508.2 1243.2,509.2 1244.6,511.7 1245.9,512.3 1247.3,508.7 1248.6,515.1 1249.9,514.5 1251.3,517.4 1252.6,519.1 1254,518 1255.3,519.3 1256.6,513.4 1258,522.5 1259.3,525.1 1260.7,522.9 1262,520.5 1263.3,523.8 1264.7,522.3 1266,527.5 1267.4,523.8 1268.7,522.3 1270,522.5 1271.4,524.4 1272.7,528.8 1274.1,528.2 1275.4,529.5 1276.7,528.8 1278.1,533.4 1279.4,531.5 1280.8,532.4 1282.1,536.6 1283.5,534.7 1284.8,533.3 1286.1,534.6 1287.5,538.8 1288.8,538.1 1290.2,535.7 1291.5,540.5 1292.8,533.1 1294.2,532.6 1295.5,535.5 1296.9,533.7 1298.2,537.7 1299.5,539.1 1300.9,538.7 1302.2,538.4 1303.6,537.8 1304.9,543.3 1306.2,537.7 1307.6,544.4 1308.9,544.9 1310.3,545 1311.6,547 1312.9,543.1 1314.3,549.2 1315.6,549.2 1317,551 1318.3,541.2 1319.6,548.6 1321,548.8 1322.3,543.8 1323.7,548.3 1325,550.1 1326.3,548.5 1327.7,551.4 1329,552.5 1330.4,550.6 1331.7,551 1333,554.1 1334.4,550.7 1335.7,554.3 1337.1,557.1 1338.4,554.7 1339.7,555.8 1341.1,555.6 1342.4,559.1 1343.8,553.3 1345.1,552.6 1346.4,555.2 1347.8,556.7 1349.1,561.3 1350.5,563.5 1351.8,562.5 1353.1,564.6 1354.5,561.5 1355.8,561.5 1357.2,559.7 1358.5,566.6 1359.8,566.6 1361.2,565.8 1362.5,563.2 1363.9,564.4 1365.2,568.9 1366.5,569 1367.9,572.4 1369.2,571.2 1370.6,569.4 1371.9,568.5 1373.2,571.5 1374.6,575.9 1375.9,577.2 1377.3,569.6 1378.6,572.2 1379.9,568.9 1381.3,570.5 1382.6,562 1384,565.4 1385.3,562 1386.6,568.5 1388,563.8 1389.3,563.6 1390.7,560.6 1392,554.8 1393.4,556.9 1394.7,556.8 1396,553.8 1397.4,553.9 1398.7,554.9 1400.1,553.5 1401.4,551.5 1402.7,547.4 1404.1,547.5 1405.4,548.7 1406.8,552.4 1408.1,554.1 1409.4,551 1410.8,552.8 1412.1,544.7 1413.5,550.3 1414.8,546.8 1416.1,551.3 1417.5,552.3 1418.8,551.8 1420.2,551.8 1421.5,551.3 1422.8,552.6 1424.2,547 1425.5,553.4 1426.9,547.4 1428.2,544.2 1429.5,548.8 1430.9,550.1 1432.2,549.6 1433.6,547.7 1434.9,551.1 1436.2,550.1 1437.6,557.1 1438.9,553.4 1440.3,553.6 1441.6,551.8 1442.9,554.6 1444.3,557.8 1445.6,552.8 1447,553.3 1448.3,549.9 1449.6,554.2 1451,559.1 1452.3,553.2 1453.7,554.7 1455,554.3 1456.3,555.6 1457.7,554.9 1459,555.8 1460.4,554.8 1461.7,558.3 1463,560.9 1464.4,562.2 1465.7,555.2 1467.1,564.2 1468.4,562.2 1469.7,563.1 1471.1,558.3 1472.4,557.5 1473.8,560.9 1475.1,563.5 1476.4,556.3 1477.8,557.8 1479.1,557.6 1480.5,554.7 1481.8,555.5 1483.1,552.5 1484.5,558.1 1485.8,548 1487.2,551.1 1488.5,548.2 1489.8,548 1491.2,543.1 1492.5,536.8 1493.9,547.7 1495.2,545.6 1496.5,543.1 1497.9,540.1 1499.2,539.4 1500.6,536 1501.9,535.6 1503.3,537.7 1504.6,530.1 1505.9,526.6 1507.3,532.8 1508.6,524.1 1510,523.4 1511.3,520.2 1512.6,520.6 1514,519.5 1515.3,516.6 1516.7,511.7 1518,510.3 1519.3,513 1520.7,518.2 1522,506 1523.4,509.5 1524.7,511.1 1526,507.2 1527.4,508.8 1528.7,507.2 1530.1,509.4 1531.4,512 1532.7,504.6 1534.1,505.7 1535.4,506.8 1536.8,504.5 1538.1,503.4 1539.4,495.4 1540.8,501.5 1542.1,496 1543.5,498.9 1544.8,502.6 1546.1,502.2 1547.5,498.4 1548.8,497.5 1550.2,497.6 1551.5,494.7"/>
<polyline stroke="#000080" points="1015.4,-360.5 1016.7,-348 1018.1,-333.2 1019.4,-319.8 1020.8,-306.1 1022.1,-293.7 1023.4,-280.8 1024.8,-268.6 1026.1,-255.5 1027.5,-241.4 1028.8,-230.3 1030.1,-215 1031.5,-203.7 1032.8,-186.9 1034.2,-174.2 1035.5,-162.2 1036.8,-148.3 1038.2,-135.3 1039.5,-119.8 1040.9,-106.5 1042.2,-94 1043.5,-81.4 1044.9,-66.6 1046.2,-53.2 1047.6,-39.9 1048.9,-26.8 1050.2,-14.3 1051.6,-0.6 1052.9,13.9 1054.3,27.3 1055.6,41.9 1056.9,58.4 1058.3,70 1059.6,82.6 1061,92.9 1062.3,106 1063.6,116.4 1065,128.9 1066.3,141.9 1067.7,155.1 1069,170.7 1070.4,182.1 1071.7,195.4 1073,207.8 1074.4,217.7 1075.7,227.8 1077.1,238.3 1078.4,244 1079.7,251.4 1081.1,256.8 1082.4,262.9 1083.8,268.3 1085.1,277.1 1086.4,285 1087.8,290.4 1089.1,298.4 1090.5,303 1091.8,311.4 1093.1,318.4 1094.5,325.8 1095.8,330.9 1097.2,337.1 1098.5,343.9 1099.8,345.4 1101.2,351.5 1102.5,357.5 1103.9,360.7 1105.2,367 1106.5,368 1107.9,373.3 1109.2,379 1110.6,380.2 1111.9,391.5 1113.2,395.7 1114.6,398.1 1115.9,400.6 1117.3,405.2 1118.6,405 1119.9,407.9 1121.3,404.3 1122.6,416.3 1124,417.8 1125.3,416.3 1126.6,421.6 1128,429 1129.3,426.3 1130.7,431.4 1132,430.2 1133.3,437.3 1134.7,442 1136,438.7 1137.4,445.6 1138.7,453.2 1140,453.7 1141.4,461.5 1142.7,463 1144.1,466.1 1145.4,461.7 1146.7,463.9 1148.1,469.6 1149.4,472.6 1150.8,471.7 1152.1,473.9 1153.4,474.2 1154.8,477.5 1156.1,482.2 1157.5,487.7 1158.8,487.7 1160.1,490.6 1161.5,490.4 1162.8,493.4 1164.2,496.8 1165.5,493.5 1166.8,500.1 1168.2,501.6 1169.5,504.6 1170.9,505 1172.2,503.3 1173.5,505 1174.9,507.4 1176.2,500.9 1177.6,505.2 1178.9,506.7 1180.3,507.3 1181.6,506.4 1182.9,504.5 1184.3,508.4 1185.6,507.9 1187,513.4 1188.3,510.1 1189.6,509.2 1191,511.1 1192.3,508.1 1193.7,507.2 1195,509.8 1196.3,508.8 1197.7,504.7 1199,500.4 1200.4,501.1 1201.7,503.6 1203,496.8 1204.4,498.4 1205.7,499 1207.1,494.4 1208.4,500.9 1209.7,496.7 1211.1,492.6 1212.4,493.2 1213.8,497 1215.1,499.9 1216.4,497.3 1217.8,496.9 1219.1,496.3 1220.5,502 1221.8,502.7 1223.1,495.6 1224.5,500.2 1225.8,503.3 1227.2,502.3 1228.5,504.7 1229.8,506.2 1231.2,502.6 1232.5,508.9 1233.9,507 1235.2,509.9 1236.5,508.6 1237.9,508 1239.2,514.6 1240.6,511.3 1241.9,514.9 1243.2,513.4 1244.6,518.4 1245.9,511.6 1247.3,514.1 1248.6,512.9 1249.9,512.8 1251.3,517.2 1252.6,513.9 1254,518.2 1255.3,523.4 1256.6,523.5 1258,520.4 1259.3,521.6 1260.7,525.2 1262,531.1 1263.3,525.1 1264.7,526.1 1266,527.9 1267.4,527 1268.7,529 1270,529.7 1271.4,533.4 1272.7,529.1 1274.1,531.1 1275.4,532.7 1276.7,530.6 1278.1,532.1 1279.4,533.7 1280.8,530.6 1282.1,533.7 1283.5,533.1 1284.8,535.5 1286.1,536.1 1287.5,537.4 1288.8,541.5 1290.2,544 1291.5,543.5 1292.8,539.1 1294.2,541.9 1295.5,537.9 1296.9,542.6 1298.2,543.7 1299.5,541 1300.9,542 1302.2,545.9 1303.6,546.6 1304.9,542.6 1306.2,542.4 1307.6,540.5 1308.9,544.8 1310.3,545.3 1311.6,547.6 1312.9,550 1314.3,545.2 1315.6,546.6 1317,548.1 1318.3,544.9 1319.6,548.6 1321,548.3 1322.3,550.7 1323.7,552 1325,552.4 1326.3,550 1327.7,551.2 1329,551.5 1330.4,554.3 1331.7,547.1 1333,550.8 1334.4,551 1335.7,554.1 1337.1,557.9 1338.4,556.8 1339.7,557.3 1341.1,555.8 1342.4,559.6 1343.8,560.1 1345.1,557.5 1346.4,562.5 1347.8,560.8 1349.1,556.8 1350.5,562.4 1351.8,565.6 1353.1,566.5 1354.5,566.4 1355.8,566.6 1357.2,569.3 1358.5,570.9 1359.8,564.4 1361.2,567.4 1362.5,570.6 1363.9,571.1 1365.2,574.1 1366.5,575.4 1367.9,573.4 1369.2,571.9 1370.6,577.5 1371.9,569.6 1373.2,571.8 1374.6,577.6 1375.9,574 1377.3,573 1378.6,570.6 1379.9,573 1381.3,577.4 1382.6,570 1384,566.8 1385.3,569.5 1386.6,571 1388,566.1 1389.3,560.8 1390.7,562.4 1392,557.2 1393.4,559.8 1394.7,555.5 1396,556.1 1397.4,554.4 1398.7,555.7 1400.1,547.4 1401.4,552.5 1402.7,552.3 1404.1,552.6 1405.4,547.2 1406.8,554.3 1408.1,548.5 1409.4,552.1 1410.8,550 1412.1,551 1413.5,550.7 1414.8,547.8 1416.1,549.6 1417.5,558.6 1418.8,549.4 1420.2,553.9 1421.5,549.4 1422.8,556.9 1424.2,550.9 1425.5,550.8 1426.9,553.3 1428.2,556.6 1429.5,551.1 1430.9,553.8 1432.2,556.7 1433.6,554.8 1434.9,552.4 1436.2,555.5 1437.6,559.4 1438.9,561.6 1440.3,559.6 1441.6,549.4 1442.9,560.3 1444.3,563.6 1445.6,562 1447,563.3 1448.3,565.1 1449.6,561.5 1451,558.2 1452.3,559.9 1453.7,562.8 1455,558.6 1456.3,558.3 1457.7,556.1 1459,560.5 1460.4,556.2 1461.7,557.7 1463,556.2 1464.4,561.5 1465.7,561.1 1467.1,564.5 1468.4,556.4 1469.7,554.5 1471.1,557.6 1472.4,553.1 1473.8,554.8 1475.1,557.9 1476.4,554.9 1477.8,554.7 1479.1,547.6 1480.5,545.5 1481.8,544.7 1483.1,547.1 1484.5,547.7 1485.8,547.6 1487.2,543.7 1488.5,540.1 1489.8,540.1 1491.2,540.9 1492.5,535.1 1493.9,533.5 1495.2,530.5 1496.5,534.9 1497.9,533.1 1499.2,526.7 1500.6,530.4 1501.9,526.1 1503.3,523.3 1504.6,524.3 1505.9,521.8 1507.3,515.1 1508.6,514.3 1510,510.1 1511.3,515.8 1512.6,512.6 1514,516.6 1515.3,507.8 1516.7,503.7 1518,511 1519.3,509.8 1520.7,499.8 1522,507.7 1523.4,501.1 1524.7,508.4 1526,504.7 1527.4,499.2 1528.7,499.1 1530.1,498.2 1531.4,485.5 1532.7,496.3 1534.1,491.8 1535.4,495.4 1536.8,479.1 1538.1,490.6 1539.4,489.3 1540.8,484.7 1542.1,496.4 1543.5,493.4 1544.8,486.5 1546.1,486.6 1547.5,492.7 1548.8,498.9 1550.2,495.7 1551.5,492.9"/>
<polyline stroke="#8000ff" points="1015.4,-360 1016.7,-347.1 1018.1,-331.1 1019.4,-318.3 1020.8,-302.7 1022.1,-291.4 1023.4,-274.9 1024.8,-263.2 1026.1,-247.7 1027.5,-235.2 1028.8,-221.2 1030.1,-205.1 1031.5,-193.8 1032.8,-176.9 1034.2,-161.8 1035.5,-149.3 1036.8,-138 1038.2,-122 1039.5,-108.7 1040.9,-94.5 1042.2,-80.8 1043.5,-65.8 1044.9,-51 1046.2,-38.6 1047.6,-23.7 1048.9,-11.7 1050.2,5 1051.6,15.8 1052.9,29.5 1054.3,44.2 1055.6,59.1 1056.9,72.3 1058.3,81.6 1059.6,94.6 1061,106.3 1062.3,120.1 1063.6,129.4 1065,141 1066.3,155 1067.7,171.4 1069,186.9 1070.4,200.1 1071.7,211.1 1073,220.7 1074.4,231 1075.7,240 1077.1,250.8 1078.4,255.5 1079.7,261.1 1081.1,268.7 1082.4,276.1 1083.8,281 1085.1,290.3 1086.4,298.9 1087.8,308.7 1089.1,316.5 1090.5,324.2 1091.8,330.9 1093.1,337 1094.5,341.3 1095.8,343.6 1097.2,351.4 1098.5,359.8 1099.8,361.4 1101.2,362.3 1102.5,373.4 1103.9,380.9 1105.2,383.5 1106.5,387.3 1107.9,394.9 1109.2,399.2 1110.6,401.7 1111.9,405.3 1113.2,410.2 1114.6,416.3 1115.9,418.6 1117.3,419.5 1118.6,424.6 1119.9,431.1 1121.3,435.9 1122.6,437.5 1124,444.6 1125.3,444.8 1126.6,452.3 1128,458.3 1129.3,459.5 1130.7,460.4 1132,464.5 1133.3,459.3 1134.7,472.1 1136,468.7 1137.4,470.1 1138.7,474.1 1140,474.9 1141.4,479.8 1142.7,481.4 1144.1,484.1 1145.4,491.8 1146.7,490.4 1148.1,488.7 1149.4,491.4 1150.8,491.2 1152.1,499.9 1153.4,494.4 1154.8,497.4 1156.1,505.7 1157.5,502.3 1158.8,505.2 1160.1,508.7 1161.5,501.5 1162.8,511.6 1164.2,517.3 1165.5,517.6 1166.8,520.8 1168.2,518.2 1169.5,522.2 1170.9,523.3 1172.2,526 1173.5,523.6 1174.9,526.7 1176.2,531.3 1177.6,528.6 1178.9,532.6 1180.3,535.5 1181.6,531.9 1182.9,531 1184.3,532.5 1185.6,528 1187,528.7 1188.3,527 1189.6,527.4 1191,534.8 1192.3,527.4 1193.7,528.1 1195,526.1 1196.3,524.7 1197.7,524 1199,523.4 1200.4,524.5 1201.7,522.3 1203,524.4 1204.4,522.2 1205.7,521.3 1207.1,521.3 1208.4,526.9 1209.7,518.6 1211.1,520.7 1212.4,523.5 1213.8,523.3 1215.1,518.7 1216.4,518.1 1217.8,521.6 1219.1,526.2 1220.5,526 1221.8,524 1223.1,523.3 1224.5,524 1225.8,524.5 1227.2,518.3 1228.5,520.1 1229.8,524.3 1231.2,530.8 1232.5,526.5 1233.9,516.9 1235.2,520.8 1236.5,524.4 1237.9,522 1239.2,525.4 1240.6,523 1241.9,522.5 1243.2,521.1 1244.6,527.2 1245.9,527.8 1247.3,528.9 1248.6,530.7 1249.9,529.4 1251.3,534.2 1252.6,527 1254,534.1 1255.3,532.1 1256.6,532.3 1258,532.4 1259.3,536.8 1260.7,536.9 1262,540.3 1263.3,535.3 1264.7,538.8 1266,536.5 1267.4,541.4 1268.7,545.5 1270,538 1271.4,545.8 1272.7,541.3 1274.1,549.2 1275.4,547 1276.7,548.8 1278.1,544.9 1279.4,553.3 1280.8,549.9 1282.1,549.1 1283.5,554 1284.8,550 1286.1,551.7 1287.5,552.3 1288.8,551.8 1290.2,558 1291.5,561.2 1292.8,554.5 1294.2,562.1 1295.5,562.4 1296.9,559 1298.2,562.5 1299.5,567.8 1300.9,561.3 1302.2,561.3 1303.6,560.5 1304.9,570 1306.2,568.3 1307.6,561.7 1308.9,564.4 1310.3,567.4 1311.6,565.3 1312.9,569.5 1314.3,567 1315.6,570.5 1317,568.5 1318.3,568.1 1319.6,565.9 1321,569.3 1322.3,570.8 1323.7,564 1325,569.9 1326.3,573 1327.7,572.5 1329,571.2 1330.4,569.4 1331.7,566.8 1333,565.8 1334.4,568.9 1335.7,567.3 1337.1,570.8 1338.4,569.6 1339.7,570.2 1341.1,574.9 1342.4,572.6 1343.8,573.9 1345.1,567 1346.4,573.1 1347.8,569.9 1349.1,576.8 1350.5,568.6 1351.8,569.8 1353.1,574.8 1354.5,579.2 1355.8,569.4 1357.2,571.9 1358.5,570.9 1359.8,577.9 1361.2,583.7 1362.5,575.8 1363.9,576.8 1365.2,572.5 1366.5,570.5 1367.9,575.3 1369.2,573 1370.6,576.4 1371.9,573.6 1373.2,578.2 1374.6,574.4 1375.9,574.7 1377.3,577.3 1378.6,575.4 1379.9,578.7 1381.3,573.2 1382.6,571.5 1384,576.6 1385.3,577 1386.6,572.6 1388,570.3 1389.3,571.1 1390.7,572.9 1392,572.2 1393.4,569.4 1394.7,569.5 1396,573.4 1397.4,575.3 1398.7,576.4 1400.1,569.5 1401.4,567.5 1402.7,571.8 1404.1,569.4 1405.4,572 1406.8,572.5 1408.1,567.9 1409.4,568.4 1410.8,564 1412.1,563.3 1413.5,569.7 1414.8,574.3 1416.1,563.6 1417.5,563 1418.8,564.8 1420.2,570.4 1421.5,562.3 1422.8,566.8 1424.2,571.2 1425.5,561.1 1426.9,563 1428.2,568.7 1429.5,570.5 1430.9,565.1 1432.2,570.7 1433.6,570.2 1434.9,563.3 1436.2,566.2 1437.6,565.2 1438.9,565.8 1440.3,567.4 1441.6,563.7 1442.9,561 1444.3,562.2 1445.6,562.6 1447,566 1448.3,569.8 1449.6,566.1 1451,564 1452.3,565.6 1453.7,569.6 1455,567.6 1456.3,567.9 1457.7,564.7 1459,567.3 1460.4,566.7 1461.7,571.1 1463,568.4 1464.4,571.5 1465.7,569.6 1467.1,568.8 1468.4,562.9 1469.7,566.6 1471.1,563.3 1472.4,570.3 1473.8,569.2 1475.1,569.8 1476.4,567.4 1477.8,573.8 1479.1,557.6 1480.5,567.3 1481.8,564.2 1483.1,559.2 1484.5,560.6 1485.8,561.7 1487.2,561.9 1488.5,563.2 1489.8,555.8 1491.2,553.2 1492.5,557.7 1493.9,557.4 1495.2,548.5 1496.5,547.3 1497.9,549.6 1499.2,546.5 1500.6,549.8 1501.9,542.5 1503.3,539.3 1504.6,553.5 1505.9,546.9 1507.3,547 1508.6,541.5 1510,535.7 1511.3,541.4 1512.6,542.6 1514,534.8 1515.3,532.6 1516.7,534.8 1518,531.3 1519.3,524 1520.7,531.4 1522,531.8 1523.4,520.1 1524.7,532.6 1526,520.9 1527.4,517.9 1528.7,517.7 1530.1,520.2 1531.4,519.1 1532.7,511.2 1534.1,516.9 1535.4,518.2 1536.8,511.3 1538.1,499.4 1539.4,508.1 1540.8,510.6 1542.1,516.8 1543.5,512.3 1544.8,515.8 1546.1,526.7 1547.5,516.4 1548.8,515 1550.2,520.2 1551.5,523.3"/>
</g>
<path d="M1015.4,66.6 H1617.6 V564.8" fill="none" stroke="#a8a8a8" stroke-width="1.3"/>
<path d="M1015.4,66 V564.8 H1618.6" fill="none" stroke="#000" stroke-width="2.2" stroke-linejoin="miter"/>
<path d="M1015.4,564.8v10M1149.3,564.8v10M1283.2,564.8v10M1417.1,564.8v10M1551,564.8v10M1082.3,564.8v5M1216.2,564.8v5M1350.2,564.8v5M1484,564.8v5M1618,564.8v5M1015.4,564.8h-10M1015.4,398.9h-10M1015.4,233h-10M1015.4,67.1h-10M1015.4,481.8h-5M1015.4,315.9h-5M1015.4,150h-5" fill="none" stroke="#000" stroke-width="2.2"/>
<text transform="translate(1015.4 617) scale(1 1.04)" font-size="43.8" text-anchor="middle">400</text>
<text transform="translate(1149.3 617) scale(1 1.04)" font-size="43.8" text-anchor="middle">500</text>
<text transform="translate(1283.2 617) scale(1 1.04)" font-size="43.8" text-anchor="middle">600</text>
<text transform="translate(1417.1 617) scale(1 1.04)" font-size="43.8" text-anchor="middle">700</text>
<text transform="translate(1551 617) scale(1 1.04)" font-size="43.8" text-anchor="middle">800</text>
<text transform="translate(998 578.1) scale(1 1.04)" font-size="43.8" text-anchor="end">0.00</text>
<text transform="translate(998 412.2) scale(1 1.04)" font-size="43.8" text-anchor="end">0.05</text>
<text transform="translate(998 246.3) scale(1 1.04)" font-size="43.8" text-anchor="end">0.10</text>
<text transform="translate(998 80.4) scale(1 1.04)" font-size="43.8" text-anchor="end">0.15</text>
<text transform="translate(1317.8 666.4) scale(1 1.04)" font-size="43.9" text-anchor="middle">Wavelength (nm)</text>
<text transform="translate(919 297) rotate(-90) scale(1 1.04)" font-size="43.8" text-anchor="middle">Abs</text>
<text transform="translate(851.3 62.9) scale(1 1)" font-size="85.5" text-anchor="start">b</text>
<line x1="1192.1" x2="1251.8" y1="76.7" y2="76.7" stroke="#000000" stroke-width="2.5"/>
<text transform="translate(1258 86.1) scale(1 1.04)" font-size="24" text-anchor="start">0 min</text>
<line x1="1192.1" x2="1251.8" y1="110.7" y2="110.7" stroke="#ff0000" stroke-width="2.5"/>
<text transform="translate(1258 120.1) scale(1 1.04)" font-size="24" text-anchor="start">30 min</text>
<line x1="1192.1" x2="1251.8" y1="144.6" y2="144.6" stroke="#0000ff" stroke-width="2.5"/>
<text transform="translate(1258 154) scale(1 1.04)" font-size="24" text-anchor="start">60 min</text>
<line x1="1192.1" x2="1251.8" y1="178.6" y2="178.6" stroke="#ff00ff" stroke-width="2.5"/>
<text transform="translate(1258 188) scale(1 1.04)" font-size="24" text-anchor="start">90 min</text>
<line x1="1192.1" x2="1251.8" y1="212.5" y2="212.5" stroke="#008000" stroke-width="2.5"/>
<text transform="translate(1258 221.9) scale(1 1.04)" font-size="24" text-anchor="start">120 min</text>
<line x1="1192.1" x2="1251.8" y1="246.4" y2="246.4" stroke="#000080" stroke-width="2.5"/>
<text transform="translate(1258 255.8) scale(1 1.04)" font-size="24" text-anchor="start">150 min</text>
<line x1="1192.1" x2="1251.8" y1="280.4" y2="280.4" stroke="#8000ff" stroke-width="2.5"/>
<text transform="translate(1258 289.8) scale(1 1.04)" font-size="24" text-anchor="start">180 min</text>
</g>
<g id="panel-c">
<g fill="none" stroke-width="4.9" stroke-linejoin="round" stroke-linecap="butt">
<polyline stroke="#000000" points="156.8,1263.7 158.5,1263.5 160.2,1262.6 162,1263.1 163.7,1262.5 165.4,1262 167.1,1262.8 168.9,1262.1 170.6,1262.2 172.3,1261.5 174,1261.9 175.8,1261.5 177.5,1260.9 179.2,1260.2 180.9,1259.8 182.7,1259.5 184.4,1258.6 186.1,1257.8 187.8,1257.5 189.6,1256.5 191.3,1255.8 193,1254.7 194.7,1252.9 196.5,1252.1 198.2,1250.6 199.9,1249.1 201.6,1248.2 203.3,1246.6 205.1,1245.3 206.8,1243.4 208.5,1242 210.2,1239.9 212,1238 213.7,1236.1 215.4,1233.9 217.1,1230.9 218.9,1227.8 220.6,1225.2 222.3,1223.3 224,1220.7 225.8,1217.5 227.5,1214.7 229.2,1211 230.9,1207.7 232.7,1204.9 234.4,1201.1 236.1,1197.3 237.8,1193.3 239.6,1188.8 241.3,1183.8 243,1179.9 244.7,1174.6 246.4,1169.1 248.2,1163.5 249.9,1157.9 251.6,1151 253.3,1143.8 255.1,1136.7 256.8,1129 258.5,1121 260.2,1113.1 262,1105.2 263.7,1097.4 265.4,1089.3 267.1,1082.4 268.9,1074.7 270.6,1067.7 272.3,1059.2 274,1051.5 275.8,1043.4 277.5,1034.4 279.2,1025.8 280.9,1017.9 282.7,1009.3 284.4,999.8 286.1,991.8 287.8,983.4 289.5,973.8 291.3,965.1 293,956.1 294.7,947 296.4,938.1 298.2,928.9 299.9,921.1 301.6,913.2 303.3,905.4 305.1,898.1 306.8,890.8 308.5,883.4 310.2,876.6 312,870.3 313.7,865.4 315.4,861.2 317.1,856.8 318.9,853.4 320.6,850.5 322.3,847 324,844.5 325.8,843.1 327.5,841.3 329.2,840.7 330.9,840.5 332.6,841 334.4,843.5 336.1,845.5 337.8,848.8 339.5,852.2 341.3,855.9 343,859.3 344.7,864.1 346.4,868.3 348.2,873.8 349.9,879 351.6,885.4 353.3,890.9 355.1,897.4 356.8,904 358.5,910.1 360.2,917.3 362,924.1 363.7,930.5 365.4,937.4 367.1,944 368.9,950.5 370.6,956.8 372.3,963.1 374,969.2 375.7,974.7 377.5,981 379.2,987 380.9,993.3 382.6,999.8 384.4,1006.1 386.1,1012.5 387.8,1018.1 389.5,1022.7 391.3,1027.6 393,1032.6 394.7,1037.6 396.4,1042.5 398.2,1047.4 399.9,1050.8 401.6,1055.7 403.3,1059 405.1,1062.3 406.8,1065.4 408.5,1069.3 410.2,1072.2 412,1076.3 413.7,1078.6 415.4,1081.7 417.1,1083.8 418.8,1086.9 420.6,1088.7 422.3,1090.5 424,1092.8 425.7,1093.5 427.5,1094.9 429.2,1096.6 430.9,1098.9 432.6,1100.8 434.4,1102.4 436.1,1104.5 437.8,1106.5 439.5,1107.6 441.3,1110.4 443,1111.7 444.7,1113.7 446.4,1116.7 448.2,1119.1 449.9,1121.4 451.6,1122.9 453.3,1126.2 455.1,1127.8 456.8,1129.2 458.5,1131.7 460.2,1133.9 461.9,1136.2 463.7,1138.6 465.4,1142.4 467.1,1143.9 468.8,1146.8 470.6,1148.9 472.3,1151.2 474,1152.4 475.7,1156.6 477.5,1158.9 479.2,1160.7 480.9,1164.1 482.6,1166.3 484.4,1169.5 486.1,1171.7 487.8,1173.4 489.5,1176.4 491.3,1178.8 493,1181 494.7,1182.5 496.4,1185.7 498.2,1188.3 499.9,1190.3 501.6,1191.7 503.3,1195.3 505,1196.2 506.8,1198.6 508.5,1200.2 510.2,1201.7 511.9,1204.1 513.7,1205.2 515.4,1206.7 517.1,1207.8 518.8,1210.7 520.6,1212.4 522.3,1213.4 524,1214.5 525.7,1215.8 527.5,1217.7 529.2,1218 530.9,1219.4 532.6,1220.7 534.4,1221.5 536.1,1222.8 537.8,1224 539.5,1224.4 541.3,1226.9 543,1226.1 544.7,1227.6 546.4,1228.9 548.1,1229.8 549.9,1230.1 551.6,1232 553.3,1232.3 555,1233.9 556.8,1235.3 558.5,1236.2 560.2,1236.4 561.9,1236.6 563.7,1239.1 565.4,1238 567.1,1239.9 568.8,1238.5 570.6,1239.9 572.3,1241.5 574,1240.4 575.7,1240.9 577.5,1243.3 579.2,1244.5 580.9,1244.7 582.6,1245.1 584.4,1245 586.1,1246.2 587.8,1247.2 589.5,1246.8 591.2,1246.3 593,1249.1 594.7,1247.8 596.4,1248.2 598.1,1249.5 599.9,1251.4 601.6,1250 603.3,1251.7 605,1253.8 606.8,1253 608.5,1253 610.2,1252.9 611.9,1252.7 613.7,1255.6 615.4,1253.7 617.1,1255.4 618.8,1256.5 620.6,1255.6 622.3,1256.4 624,1258 625.7,1257.6 627.5,1259 629.2,1259.3 630.9,1260 632.6,1257.7 634.3,1259.5 636.1,1259.5 637.8,1259.6 639.5,1258.5 641.2,1260.2 643,1261.8 644.7,1261.9 646.4,1260.9 648.1,1261.9 649.9,1262.4 651.6,1263.6 653.3,1262.7 655,1263.1 656.8,1262.8 658.5,1265 660.2,1266.2 661.9,1265.2 663.7,1265.6 665.4,1266.1 667.1,1264.7 668.8,1266.6 670.6,1267.8 672.3,1267.8 674,1267.3"/>
<polyline stroke="#00ff00" points="156.8,1260.6 158.5,1260.5 160.2,1260.9 162,1260.2 163.7,1260.3 165.4,1260.2 167.1,1259.9 168.9,1259.6 170.6,1259.8 172.3,1259.2 174,1259.1 175.8,1259.2 177.5,1258.7 179.2,1257.5 180.9,1257.3 182.7,1257.3 184.4,1256.2 186.1,1256 187.8,1255.3 189.6,1254.4 191.3,1253.7 193,1251.8 194.7,1250.8 196.5,1249.8 198.2,1248.6 199.9,1247.7 201.6,1246.3 203.3,1244.5 205.1,1243.1 206.8,1241.3 208.5,1239.9 210.2,1237.8 212,1236.7 213.7,1234.3 215.4,1231.7 217.1,1229.3 218.9,1227.1 220.6,1224.2 222.3,1221.9 224,1218.8 225.8,1216.5 227.5,1213.1 229.2,1209.5 230.9,1206.3 232.7,1203.1 234.4,1200.2 236.1,1195.8 237.8,1192.2 239.6,1187.2 241.3,1183.3 243,1178.1 244.7,1173.3 246.4,1168.2 248.2,1162.3 249.9,1157.4 251.6,1150 253.3,1143.2 255.1,1136.4 256.8,1128.5 258.5,1119.7 260.2,1112.8 262,1105.3 263.7,1097.1 265.4,1089.9 267.1,1082.2 268.9,1074.7 270.6,1067.7 272.3,1059.6 274,1051.1 275.8,1042.7 277.5,1034.8 279.2,1025.9 280.9,1017.1 282.7,1008.6 284.4,999.5 286.1,991 287.8,982 289.5,973.5 291.3,963.8 293,954.3 294.7,945.2 296.4,936.7 298.2,927.8 299.9,919.3 301.6,911.4 303.3,903.8 305.1,895.8 306.8,888.4 308.5,881.3 310.2,874.3 312,869.4 313.7,864 315.4,859.9 317.1,856.6 318.9,852.1 320.6,849.3 322.3,846.3 324,843.7 325.8,841.7 327.5,840.4 329.2,839.9 330.9,840.5 332.6,841.2 334.4,842.9 336.1,846.1 337.8,848.7 339.5,852.7 341.3,856.4 343,860.3 344.7,865 346.4,869.9 348.2,874.9 349.9,879.6 351.6,885.4 353.3,892 355.1,898.2 356.8,904.3 358.5,911.5 360.2,918 362,924.9 363.7,931.3 365.4,938.3 367.1,944.2 368.9,950.8 370.6,957.4 372.3,963.5 374,969 375.7,975.2 377.5,981.7 379.2,987.7 380.9,993.7 382.6,1000.3 384.4,1006.7 386.1,1012.6 387.8,1018.1 389.5,1023 391.3,1027.4 393,1033.5 394.7,1037.9 396.4,1042.5 398.2,1047.5 399.9,1050.9 401.6,1054.2 403.3,1057.7 405.1,1061.4 406.8,1064.7 408.5,1067.6 410.2,1071.3 412,1074.3 413.7,1078.2 415.4,1080.7 417.1,1082.8 418.8,1085.9 420.6,1087.4 422.3,1088.6 424,1091.1 425.7,1093.5 427.5,1094.7 429.2,1096.2 430.9,1098.2 432.6,1099.7 434.4,1101.9 436.1,1103.4 437.8,1104.9 439.5,1107.3 441.3,1109.7 443,1111.1 444.7,1113.8 446.4,1115.8 448.2,1117.7 449.9,1120.1 451.6,1123.1 453.3,1124.8 455.1,1127.1 456.8,1127.9 458.5,1131.1 460.2,1132.1 461.9,1136.3 463.7,1138.1 465.4,1141 467.1,1142.9 468.8,1145.7 470.6,1147.4 472.3,1149.6 474,1152.4 475.7,1154.4 477.5,1157 479.2,1159.7 480.9,1163.2 482.6,1165.8 484.4,1169.1 486.1,1170.6 487.8,1173 489.5,1175.9 491.3,1178.5 493,1179.6 494.7,1183 496.4,1184.6 498.2,1187.2 499.9,1189.2 501.6,1191 503.3,1192.7 505,1195.1 506.8,1197.9 508.5,1198.1 510.2,1201.1 511.9,1202.7 513.7,1204.4 515.4,1206.3 517.1,1208.1 518.8,1209.3 520.6,1211.6 522.3,1211.9 524,1214.8 525.7,1213.4 527.5,1216.9 529.2,1216.8 530.9,1217.3 532.6,1218.5 534.4,1219.8 536.1,1221.3 537.8,1222.1 539.5,1224.1 541.3,1224.1 543,1225 544.7,1226 546.4,1227.7 548.1,1228.4 549.9,1230.5 551.6,1230.1 553.3,1231.3 555,1232.2 556.8,1232.9 558.5,1233.9 560.2,1234.3 561.9,1233.9 563.7,1234.7 565.4,1235.7 567.1,1235.1 568.8,1236.9 570.6,1238.6 572.3,1239 574,1238.2 575.7,1239 577.5,1240.6 579.2,1241.1 580.9,1242.9 582.6,1243.2 584.4,1244 586.1,1244.1 587.8,1245.7 589.5,1245.6 591.2,1248.2 593,1247.2 594.7,1247.3 596.4,1247.6 598.1,1247.9 599.9,1248.1 601.6,1249.7 603.3,1250.6 605,1252 606.8,1251.5 608.5,1252.5 610.2,1252.4 611.9,1252.4 613.7,1253.4 615.4,1253.9 617.1,1253.6 618.8,1254 620.6,1254.6 622.3,1253.3 624,1255.9 625.7,1254.8 627.5,1258.5 629.2,1256.7 630.9,1257.4 632.6,1257.8 634.3,1256.2 636.1,1259.4 637.8,1257.7 639.5,1259.6 641.2,1260.1 643,1260.1 644.7,1257.1 646.4,1259.1 648.1,1260.2 649.9,1259.9 651.6,1261.4 653.3,1263.3 655,1263.4 656.8,1262.2 658.5,1261.9 660.2,1263.8 661.9,1264.1 663.7,1263.4 665.4,1263.2 667.1,1265.7 668.8,1266.2 670.6,1266.2 672.3,1266.2 674,1265.7"/>
<polyline stroke="#0000ff" points="156.8,1259.1 158.5,1258.6 160.2,1259.2 162,1258.3 163.7,1258.3 165.4,1258.3 167.1,1258.2 168.9,1258.6 170.6,1258.2 172.3,1257.5 174,1257.6 175.8,1257.3 177.5,1257.3 179.2,1256 180.9,1255.8 182.7,1255.2 184.4,1254.9 186.1,1254.5 187.8,1253.4 189.6,1253.2 191.3,1251.4 193,1250.7 194.7,1249.4 196.5,1248.1 198.2,1247.2 199.9,1246.1 201.6,1244.6 203.3,1243.2 205.1,1242 206.8,1240.2 208.5,1239.1 210.2,1237.2 212,1235.1 213.7,1233.3 215.4,1230.1 217.1,1228.1 218.9,1226.3 220.6,1223.1 222.3,1221 224,1218.1 225.8,1215.2 227.5,1212.2 229.2,1209 230.9,1205.7 232.7,1202.4 234.4,1199.6 236.1,1195.8 237.8,1192 239.6,1187.4 241.3,1183.4 243,1179.1 244.7,1173.7 246.4,1168.7 248.2,1163.4 249.9,1158.3 251.6,1151.8 253.3,1145.3 255.1,1138.3 256.8,1130 258.5,1122.6 260.2,1114.2 262,1107.6 263.7,1100.1 265.4,1093 267.1,1085.7 268.9,1077.6 270.6,1070.9 272.3,1063 274,1054.9 275.8,1047 277.5,1039.1 279.2,1030.2 280.9,1022.3 282.7,1013.7 284.4,1005.2 286.1,996.7 287.8,988.6 289.5,981.1 291.3,972.7 293,964.8 294.7,956.9 296.4,949.2 298.2,941.4 299.9,933.3 301.6,925.8 303.3,918 305.1,910.7 306.8,902.9 308.5,896.4 310.2,890.4 312,883.7 313.7,878.6 315.4,874.3 317.1,869.7 318.9,866.4 320.6,863.1 322.3,860.2 324,857.2 325.8,854.8 327.5,852.8 329.2,851.8 330.9,851.4 332.6,852.1 334.4,853.5 336.1,855.5 337.8,858.2 339.5,861.2 341.3,864.6 343,868.3 344.7,872.9 346.4,877.7 348.2,882.1 349.9,887.8 351.6,893.3 353.3,899.2 355.1,905.2 356.8,911.8 358.5,918.6 360.2,925 362,931.5 363.7,937.4 365.4,943.2 367.1,950.3 368.9,956.1 370.6,962.1 372.3,968.2 374,973.5 375.7,978.2 377.5,984.3 379.2,990.2 380.9,996.9 382.6,1002.5 384.4,1008.8 386.1,1015.1 387.8,1019.4 389.5,1024.6 391.3,1029.1 393,1034.1 394.7,1039.6 396.4,1044.2 398.2,1048.4 399.9,1052.3 401.6,1055.8 403.3,1059.4 405.1,1063 406.8,1065.7 408.5,1069.3 410.2,1072.2 412,1075.8 413.7,1078.9 415.4,1081.5 417.1,1084.1 418.8,1085.8 420.6,1087.8 422.3,1089.8 424,1091.4 425.7,1093.5 427.5,1094.9 429.2,1096.2 430.9,1098 432.6,1100.2 434.4,1102.8 436.1,1103.5 437.8,1104.4 439.5,1107.1 441.3,1108.6 443,1110.3 444.7,1114.3 446.4,1116.5 448.2,1117.6 449.9,1119.9 451.6,1122 453.3,1124.8 455.1,1126.8 456.8,1128.9 458.5,1129.9 460.2,1132.4 461.9,1135.4 463.7,1137.6 465.4,1139.4 467.1,1142.8 468.8,1145.8 470.6,1146.4 472.3,1150.5 474,1151.7 475.7,1154.9 477.5,1157.1 479.2,1159.4 480.9,1161.9 482.6,1164.6 484.4,1167.1 486.1,1170.2 487.8,1172.9 489.5,1174.2 491.3,1177.1 493,1178.3 494.7,1180.9 496.4,1183.6 498.2,1186.5 499.9,1188.3 501.6,1190.4 503.3,1192.1 505,1193.7 506.8,1196.9 508.5,1198.8 510.2,1199.5 511.9,1201.8 513.7,1203.9 515.4,1204.6 517.1,1206.4 518.8,1208.7 520.6,1209.9 522.3,1211.8 524,1212.3 525.7,1214.1 527.5,1215.3 529.2,1217.3 530.9,1216.6 532.6,1218.1 534.4,1218.5 536.1,1220.6 537.8,1221.7 539.5,1223.4 541.3,1223 543,1224.8 544.7,1225.4 546.4,1227.5 548.1,1227.4 549.9,1228.3 551.6,1230.2 553.3,1230.5 555,1231 556.8,1231.1 558.5,1233.6 560.2,1234.9 561.9,1234.6 563.7,1235.9 565.4,1235.3 567.1,1236.7 568.8,1237.3 570.6,1236.9 572.3,1236.8 574,1238.4 575.7,1239.4 577.5,1240.7 579.2,1239.3 580.9,1242.8 582.6,1242.8 584.4,1242.7 586.1,1242.6 587.8,1243.5 589.5,1245 591.2,1245.5 593,1246 594.7,1244.9 596.4,1246.4 598.1,1247.4 599.9,1247.8 601.6,1248.1 603.3,1249.3 605,1250.8 606.8,1249.1 608.5,1251.8 610.2,1250.3 611.9,1250.7 613.7,1251.1 615.4,1253.1 617.1,1253.2 618.8,1254.2 620.6,1253 622.3,1253.1 624,1256.5 625.7,1255.5 627.5,1253.2 629.2,1254.9 630.9,1256.2 632.6,1257.8 634.3,1258.5 636.1,1256 637.8,1257.9 639.5,1257.4 641.2,1257.6 643,1257.8 644.7,1257.5 646.4,1258.3 648.1,1259.2 649.9,1260.4 651.6,1259.2 653.3,1262.2 655,1260.9 656.8,1262.3 658.5,1260.9 660.2,1261 661.9,1263.4 663.7,1263.1 665.4,1261.1 667.1,1263.7 668.8,1262.1 670.6,1264.4 672.3,1265.2 674,1265"/>
</g>
<path d="M156.8,817.5 H760.8 V1295" fill="none" stroke="#606060" stroke-width="1.2"/>
<path d="M156.8,816.9 V1295 H761.8" fill="none" stroke="#000" stroke-width="2.2" stroke-linejoin="miter"/>
<path d="M156.8,1295v10M329.2,1295v10M501.6,1295v10M674,1295v10M243,1295v5M415.4,1295v5M587.8,1295v5M760.2,1295v5M156.8,1295h-10M156.8,1188.8h-10M156.8,1082.6h-10M156.8,976.4h-10M156.8,870.2h-10M156.8,1241.9h-5M156.8,1135.7h-5M156.8,1029.5h-5M156.8,923.3h-5M156.8,817.1h-5" fill="none" stroke="#000" stroke-width="2.2"/>
<text transform="translate(156.8 1343.3) scale(1 1.04)" font-size="41.2" text-anchor="middle">500</text>
<text transform="translate(329.2 1343.3) scale(1 1.04)" font-size="41.2" text-anchor="middle">600</text>
<text transform="translate(501.6 1343.3) scale(1 1.04)" font-size="41.2" text-anchor="middle">700</text>
<text transform="translate(674 1343.3) scale(1 1.04)" font-size="41.2" text-anchor="middle">800</text>
<text transform="translate(139.5 1307.5) scale(1 1.04)" font-size="41.2" text-anchor="end">0.0</text>
<text transform="translate(139.5 1201.3) scale(1 1.04)" font-size="41.2" text-anchor="end">0.2</text>
<text transform="translate(139.5 1095.1) scale(1 1.04)" font-size="41.2" text-anchor="end">0.4</text>
<text transform="translate(139.5 988.9) scale(1 1.04)" font-size="41.2" text-anchor="end">0.6</text>
<text transform="translate(139.5 882.7) scale(1 1.04)" font-size="41.2" text-anchor="end">0.8</text>
<text transform="translate(459 1391.2) scale(1 1.04)" font-size="41.5" text-anchor="middle">Wavelength (nm)</text>
<text transform="translate(61 1037.5) rotate(-90) scale(1 1.04)" font-size="41.2" text-anchor="middle">Abs</text>
<text transform="translate(-0.3 797) scale(1 1)" font-size="82" text-anchor="start">c</text>
<line x1="589" x2="646" y1="845.8" y2="845.8" stroke="#000000" stroke-width="5.5"/>
<text transform="translate(652.6 854.3) scale(1 1.04)" font-size="25.3" text-anchor="start">0 min</text>
<line x1="589" x2="646" y1="877.1" y2="877.1" stroke="#00ff00" stroke-width="5.5"/>
<text transform="translate(652.6 885.6) scale(1 1.04)" font-size="25.3" text-anchor="start">30 min</text>
<line x1="589" x2="646" y1="908.4" y2="908.4" stroke="#0000ff" stroke-width="5.5"/>
<text transform="translate(652.6 916.9) scale(1 1.04)" font-size="25.3" text-anchor="start">60 min</text>
</g>
<g id="panel-d">
<g fill="none" stroke-width="4.9" stroke-linejoin="round" stroke-linecap="butt">
<polyline stroke="#000000" points="1044.4,1259.5 1046.1,1259.5 1047.8,1259.5 1049.6,1259.2 1051.3,1259.4 1053,1258.9 1054.7,1258.4 1056.5,1258.7 1058.2,1258.9 1059.9,1258.3 1061.6,1257.6 1063.4,1257 1065.1,1256.6 1066.8,1256.7 1068.5,1256.1 1070.3,1255 1072,1254.8 1073.7,1254.6 1075.4,1253.5 1077.2,1252.8 1078.9,1251.9 1080.6,1250.8 1082.3,1250.8 1084.1,1249.8 1085.8,1248.9 1087.5,1248 1089.2,1246.5 1090.9,1245.2 1092.7,1244.2 1094.4,1242.3 1096.1,1240.5 1097.8,1239.4 1099.6,1237.5 1101.3,1235.5 1103,1233.7 1104.7,1231.6 1106.5,1228.7 1108.2,1225.7 1109.9,1223 1111.6,1220.4 1113.4,1217.6 1115.1,1214.6 1116.8,1211.5 1118.5,1208.7 1120.3,1204.3 1122,1201.3 1123.7,1197.2 1125.4,1193.3 1127.2,1189 1128.9,1185 1130.6,1180.3 1132.3,1175.5 1134,1170.6 1135.8,1164.1 1137.5,1158.7 1139.2,1152.8 1140.9,1146.3 1142.7,1139.1 1144.4,1131.3 1146.1,1124.2 1147.8,1115.2 1149.6,1107.4 1151.3,1098.6 1153,1090.1 1154.7,1081.9 1156.5,1072.8 1158.2,1064.8 1159.9,1056.2 1161.6,1047.4 1163.4,1039.2 1165.1,1030.5 1166.8,1021.5 1168.5,1012.3 1170.3,1002.3 1172,993.4 1173.7,984.5 1175.4,975.7 1177.1,968.1 1178.9,958.8 1180.6,950.4 1182.3,941.8 1184,933.2 1185.8,925.3 1187.5,916.7 1189.2,908.2 1190.9,900.3 1192.7,892.7 1194.4,884.6 1196.1,876.8 1197.8,869.4 1199.6,862.3 1201.3,856.7 1203,851.8 1204.7,847.4 1206.5,843 1208.2,839.5 1209.9,835.8 1211.6,833.5 1213.4,831.8 1215.1,830.3 1216.8,830.2 1218.5,830.4 1220.2,829.4 1222,831 1223.7,832.9 1225.4,835.4 1227.1,837.7 1228.9,841.5 1230.6,845.9 1232.3,849.9 1234,854.5 1235.8,859.7 1237.5,865.5 1239.2,871.4 1240.9,877.4 1242.7,883.6 1244.4,889.5 1246.1,896.5 1247.8,903.4 1249.6,910.3 1251.3,917.2 1253,923.7 1254.7,930.9 1256.5,938 1258.2,944.4 1259.9,951 1261.6,957.1 1263.3,963.2 1265.1,969.6 1266.8,975.3 1268.5,980.8 1270.2,985.4 1272,989.8 1273.7,994.3 1275.4,999.2 1277.1,1003.1 1278.9,1008.8 1280.6,1013 1282.3,1018.1 1284,1022.9 1285.8,1028.4 1287.5,1032.2 1289.2,1037.7 1290.9,1042.3 1292.7,1047.4 1294.4,1052 1296.1,1055.6 1297.8,1059.2 1299.6,1062.3 1301.3,1065.9 1303,1068.8 1304.7,1071.1 1306.4,1073.1 1308.2,1075.7 1309.9,1077.1 1311.6,1080.3 1313.3,1082.5 1315.1,1084.4 1316.8,1086.2 1318.5,1088.5 1320.2,1088.9 1322,1090.9 1323.7,1093 1325.4,1094.7 1327.1,1096.3 1328.9,1098.5 1330.6,1099.9 1332.3,1102.8 1334,1104.1 1335.8,1105 1337.5,1108.2 1339.2,1110.4 1340.9,1112.4 1342.7,1116.1 1344.4,1117.8 1346.1,1120 1347.8,1123.5 1349.5,1127.5 1351.3,1129.4 1353,1133.3 1354.7,1135.6 1356.4,1139.2 1358.2,1141.6 1359.9,1144.6 1361.6,1145.7 1363.3,1149.5 1365.1,1152.5 1366.8,1156 1368.5,1159.6 1370.2,1162.3 1372,1164.9 1373.7,1166.1 1375.4,1169.1 1377.1,1172 1378.9,1174.7 1380.6,1176.8 1382.3,1178.3 1384,1180 1385.8,1183.5 1387.5,1184.3 1389.2,1186.7 1390.9,1188.7 1392.6,1190.8 1394.4,1191.8 1396.1,1193.3 1397.8,1195.6 1399.5,1196.8 1401.3,1199.1 1403,1199.7 1404.7,1202 1406.4,1203 1408.2,1206.9 1409.9,1205.8 1411.6,1208.2 1413.3,1209.8 1415.1,1211.1 1416.8,1211.9 1418.5,1213.5 1420.2,1215.3 1422,1217.7 1423.7,1218.7 1425.4,1220.3 1427.1,1219.8 1428.9,1221.4 1430.6,1223.3 1432.3,1223.9 1434,1224.7 1435.7,1225.7 1437.5,1227.2 1439.2,1227.2 1440.9,1228.8 1442.6,1228.8 1444.4,1230.9 1446.1,1231.6 1447.8,1232 1449.5,1231.8 1451.3,1233.5 1453,1235.6 1454.7,1234.7 1456.4,1236.1 1458.2,1235.1 1459.9,1236.4 1461.6,1237.9 1463.3,1239.3 1465.1,1240 1466.8,1239.5 1468.5,1242.1 1470.2,1239 1472,1240.6 1473.7,1243.3 1475.4,1244.1 1477.1,1245.1 1478.8,1243.4 1480.6,1243.5 1482.3,1243.9 1484,1244.8 1485.7,1246.5 1487.5,1246.2 1489.2,1246.7 1490.9,1248 1492.6,1247.7 1494.4,1248.4 1496.1,1250 1497.8,1248.5 1499.5,1249.7 1501.3,1249.3 1503,1251.1 1504.7,1249.8 1506.4,1250.5 1508.2,1252.4 1509.9,1250.4 1511.6,1254.4 1513.3,1253.7 1515.1,1253.4 1516.8,1253.7 1518.5,1254.9 1520.2,1255.3 1521.9,1254.4 1523.7,1255.8 1525.4,1255.2 1527.1,1255.9 1528.8,1256.7 1530.6,1257.2 1532.3,1257.2 1534,1257.7 1535.7,1257.7 1537.5,1258.2 1539.2,1260.2 1540.9,1260.4 1542.6,1258.6 1544.4,1257.8 1546.1,1260.9 1547.8,1262.2 1549.5,1260.6 1551.3,1261.5 1553,1261.5 1554.7,1262.2 1556.4,1261.8 1558.2,1262.6 1559.9,1262.9 1561.6,1263.2"/>
<polyline stroke="#00ff00" points="1044.4,1260.2 1046.1,1259.7 1047.8,1260.4 1049.6,1260 1051.3,1259.9 1053,1259.4 1054.7,1258.8 1056.5,1259.1 1058.2,1258.7 1059.9,1257.7 1061.6,1258.5 1063.4,1258.1 1065.1,1257.1 1066.8,1256.9 1068.5,1256.7 1070.3,1255.9 1072,1254.2 1073.7,1254.8 1075.4,1253.2 1077.2,1253 1078.9,1252.9 1080.6,1251.3 1082.3,1250.3 1084.1,1249.8 1085.8,1248.8 1087.5,1247.2 1089.2,1247.1 1090.9,1245.4 1092.7,1244.1 1094.4,1242.7 1096.1,1241.2 1097.8,1239.9 1099.6,1237.6 1101.3,1235.6 1103,1233.8 1104.7,1231.5 1106.5,1229.2 1108.2,1226.1 1109.9,1223.9 1111.6,1221.1 1113.4,1217.8 1115.1,1215.3 1116.8,1212.1 1118.5,1209.4 1120.3,1206.2 1122,1202.3 1123.7,1198.3 1125.4,1194.8 1127.2,1190.5 1128.9,1186.3 1130.6,1182.4 1132.3,1177.5 1134,1172.2 1135.8,1166.8 1137.5,1161.7 1139.2,1156.1 1140.9,1149.6 1142.7,1142.8 1144.4,1135.6 1146.1,1128.3 1147.8,1120.3 1149.6,1112.1 1151.3,1103.2 1153,1095.8 1154.7,1087.3 1156.5,1078.9 1158.2,1071 1159.9,1062.3 1161.6,1054.4 1163.4,1046.1 1165.1,1037.1 1166.8,1028.6 1168.5,1019.7 1170.3,1011 1172,1002.1 1173.7,993.4 1175.4,985.3 1177.1,976.1 1178.9,968.4 1180.6,960.1 1182.3,952.2 1184,944.4 1185.8,935.9 1187.5,928 1189.2,920.1 1190.9,912.6 1192.7,904.3 1194.4,897.1 1196.1,889 1197.8,881.8 1199.6,875.7 1201.3,870.2 1203,864.8 1204.7,860.5 1206.5,855.9 1208.2,852 1209.9,848.7 1211.6,845.8 1213.4,843.7 1215.1,842 1216.8,840.4 1218.5,839.9 1220.2,840.1 1222,841.3 1223.7,843 1225.4,845.3 1227.1,847.8 1228.9,851.6 1230.6,855.2 1232.3,859.4 1234,864.4 1235.8,869.4 1237.5,875 1239.2,880.5 1240.9,886.1 1242.7,892.2 1244.4,898.3 1246.1,904.4 1247.8,910.6 1249.6,917.6 1251.3,924.2 1253,930.8 1254.7,936.9 1256.5,943.6 1258.2,950.5 1259.9,957.2 1261.6,963.3 1263.3,969.9 1265.1,975.2 1266.8,981.3 1268.5,985.9 1270.2,991.2 1272,995.8 1273.7,1000.9 1275.4,1005.2 1277.1,1010.1 1278.9,1015.2 1280.6,1019.6 1282.3,1025.1 1284,1029.5 1285.8,1035.3 1287.5,1039.4 1289.2,1044.3 1290.9,1049.7 1292.7,1054.9 1294.4,1058.4 1296.1,1063.7 1297.8,1067.6 1299.6,1070.7 1301.3,1073 1303,1075.7 1304.7,1078.7 1306.4,1079.8 1308.2,1083.3 1309.9,1085.7 1311.6,1086.5 1313.3,1088.6 1315.1,1091.3 1316.8,1092.7 1318.5,1095.1 1320.2,1096.4 1322,1098.1 1323.7,1100 1325.4,1102 1327.1,1103.7 1328.9,1105.2 1330.6,1107.7 1332.3,1109.7 1334,1111.4 1335.8,1112.5 1337.5,1115 1339.2,1117.5 1340.9,1120.2 1342.7,1123 1344.4,1124.6 1346.1,1128.1 1347.8,1129.5 1349.5,1133 1351.3,1135.4 1353,1138.2 1354.7,1141.8 1356.4,1143.9 1358.2,1147 1359.9,1150.7 1361.6,1152.8 1363.3,1154.8 1365.1,1157.8 1366.8,1160.9 1368.5,1164.1 1370.2,1166.7 1372,1168.2 1373.7,1171 1375.4,1173.3 1377.1,1176.3 1378.9,1178.8 1380.6,1180.6 1382.3,1183.1 1384,1184.7 1385.8,1186.8 1387.5,1189.5 1389.2,1190.9 1390.9,1191.9 1392.6,1193.8 1394.4,1196.4 1396.1,1197.3 1397.8,1198.5 1399.5,1200.8 1401.3,1201.3 1403,1203.8 1404.7,1204.9 1406.4,1206.9 1408.2,1209.7 1409.9,1209.9 1411.6,1210.5 1413.3,1211.5 1415.1,1214.1 1416.8,1215.1 1418.5,1215.6 1420.2,1217.4 1422,1218.9 1423.7,1219.3 1425.4,1221.1 1427.1,1222.6 1428.9,1222.9 1430.6,1225.4 1432.3,1224.9 1434,1225.8 1435.7,1228.4 1437.5,1228.3 1439.2,1229 1440.9,1229.8 1442.6,1231.7 1444.4,1231.8 1446.1,1232.8 1447.8,1232.6 1449.5,1233.7 1451.3,1235.2 1453,1235.2 1454.7,1236.7 1456.4,1238.6 1458.2,1238.6 1459.9,1240.1 1461.6,1239.2 1463.3,1241.1 1465.1,1240.9 1466.8,1242.6 1468.5,1241.7 1470.2,1243.3 1472,1244.6 1473.7,1244.6 1475.4,1245.3 1477.1,1245.4 1478.8,1244.2 1480.6,1246 1482.3,1246.6 1484,1248.5 1485.7,1248.3 1487.5,1247.8 1489.2,1249.9 1490.9,1249.9 1492.6,1248.5 1494.4,1251.5 1496.1,1251.2 1497.8,1253.7 1499.5,1252.6 1501.3,1250.7 1503,1253.6 1504.7,1253.2 1506.4,1253.1 1508.2,1254.3 1509.9,1255 1511.6,1254.6 1513.3,1254.5 1515.1,1256.4 1516.8,1256.6 1518.5,1255.6 1520.2,1258.3 1521.9,1257.3 1523.7,1259.6 1525.4,1259.6 1527.1,1258.5 1528.8,1259.8 1530.6,1258.4 1532.3,1259.9 1534,1258.4 1535.7,1259.4 1537.5,1260.7 1539.2,1261.7 1540.9,1262.2 1542.6,1262.8 1544.4,1263.1 1546.1,1262 1547.8,1262.7 1549.5,1262.6 1551.3,1263.6 1553,1262.3 1554.7,1263.6 1556.4,1266 1558.2,1265.3 1559.9,1264.9 1561.6,1266.6"/>
<polyline stroke="#0000ff" points="1044.4,1259.7 1046.1,1259.6 1047.8,1259.4 1049.6,1259.1 1051.3,1259.3 1053,1259.1 1054.7,1258.9 1056.5,1259.1 1058.2,1258.3 1059.9,1258.1 1061.6,1258 1063.4,1257.5 1065.1,1256.2 1066.8,1256.3 1068.5,1255.5 1070.3,1255 1072,1255 1073.7,1254.6 1075.4,1253.6 1077.2,1252.1 1078.9,1251.9 1080.6,1251.2 1082.3,1250.3 1084.1,1250.1 1085.8,1248.8 1087.5,1247.8 1089.2,1246.5 1090.9,1245.6 1092.7,1244 1094.4,1242.2 1096.1,1241.1 1097.8,1239.3 1099.6,1237.2 1101.3,1235.2 1103,1233.6 1104.7,1231.5 1106.5,1229.8 1108.2,1226.7 1109.9,1224.1 1111.6,1221.7 1113.4,1219.3 1115.1,1215.9 1116.8,1213.3 1118.5,1210.9 1120.3,1207.9 1122,1204 1123.7,1200.3 1125.4,1197.2 1127.2,1193.3 1128.9,1189.7 1130.6,1185.4 1132.3,1180.6 1134,1175.6 1135.8,1171 1137.5,1165.3 1139.2,1159.6 1140.9,1153.9 1142.7,1148 1144.4,1141 1146.1,1133.7 1147.8,1125.2 1149.6,1118.1 1151.3,1109.9 1153,1102.5 1154.7,1094.8 1156.5,1087 1158.2,1079 1159.9,1071.3 1161.6,1064.3 1163.4,1056.7 1165.1,1048.2 1166.8,1039.8 1168.5,1031.4 1170.3,1022.6 1172,1014.5 1173.7,1006.2 1175.4,997.9 1177.1,989.3 1178.9,981 1180.6,973.1 1182.3,965.1 1184,957.2 1185.8,949.1 1187.5,941 1189.2,933.6 1190.9,926.2 1192.7,918.8 1194.4,911.7 1196.1,905.6 1197.8,899.6 1199.6,893.7 1201.3,887.6 1203,882.9 1204.7,878.1 1206.5,873.6 1208.2,869.7 1209.9,866 1211.6,862.9 1213.4,860.6 1215.1,858.4 1216.8,857 1218.5,855.8 1220.2,856.1 1222,857.1 1223.7,857.7 1225.4,860 1227.1,862.5 1228.9,865.8 1230.6,869.5 1232.3,873.2 1234,878.2 1235.8,883 1237.5,887.9 1239.2,893.6 1240.9,899.5 1242.7,905.5 1244.4,911.1 1246.1,917.7 1247.8,923.8 1249.6,930.1 1251.3,937.6 1253,943.8 1254.7,950.4 1256.5,956.6 1258.2,963.3 1259.9,969.5 1261.6,976.5 1263.3,981.9 1265.1,987.9 1266.8,993.7 1268.5,998.6 1270.2,1003.8 1272,1008.1 1273.7,1012.4 1275.4,1016.9 1277.1,1020.8 1278.9,1026.3 1280.6,1031 1282.3,1035.7 1284,1040.5 1285.8,1044.8 1287.5,1049.9 1289.2,1054.2 1290.9,1058.9 1292.7,1063.2 1294.4,1067.8 1296.1,1072.3 1297.8,1075.5 1299.6,1077.9 1301.3,1080.5 1303,1083.6 1304.7,1085.1 1306.4,1087.5 1308.2,1089.7 1309.9,1091.4 1311.6,1092.4 1313.3,1093.7 1315.1,1097.1 1316.8,1097.6 1318.5,1099.3 1320.2,1101.4 1322,1103.1 1323.7,1105.1 1325.4,1106.1 1327.1,1107.7 1328.9,1110.2 1330.6,1111.1 1332.3,1114.7 1334,1114.7 1335.8,1117.5 1337.5,1120.1 1339.2,1121.8 1340.9,1123.3 1342.7,1126.5 1344.4,1129.5 1346.1,1131.2 1347.8,1133.3 1349.5,1136.7 1351.3,1138.4 1353,1142.4 1354.7,1145.3 1356.4,1147.8 1358.2,1149.9 1359.9,1153.9 1361.6,1156.8 1363.3,1159.5 1365.1,1161.3 1366.8,1164.5 1368.5,1166.4 1370.2,1170 1372,1171.4 1373.7,1173.3 1375.4,1176.2 1377.1,1178.8 1378.9,1180.6 1380.6,1182.6 1382.3,1184.2 1384,1186.7 1385.8,1188.5 1387.5,1190.5 1389.2,1192.1 1390.9,1193.9 1392.6,1195.1 1394.4,1198.4 1396.1,1197.9 1397.8,1200.6 1399.5,1202.8 1401.3,1202.5 1403,1204 1404.7,1207.1 1406.4,1209.8 1408.2,1210.3 1409.9,1210.8 1411.6,1212.2 1413.3,1213.6 1415.1,1214.4 1416.8,1216.2 1418.5,1218.4 1420.2,1218.8 1422,1220.4 1423.7,1221.9 1425.4,1221.9 1427.1,1223.2 1428.9,1224.7 1430.6,1225 1432.3,1226.7 1434,1228.1 1435.7,1228.7 1437.5,1228.4 1439.2,1230.8 1440.9,1231.3 1442.6,1232.4 1444.4,1232.4 1446.1,1234.1 1447.8,1234.8 1449.5,1235.2 1451.3,1235.8 1453,1237 1454.7,1236.4 1456.4,1238.8 1458.2,1238.9 1459.9,1240.7 1461.6,1239.2 1463.3,1240.9 1465.1,1242.2 1466.8,1242.8 1468.5,1242.9 1470.2,1244.6 1472,1244 1473.7,1245.4 1475.4,1245.5 1477.1,1245.9 1478.8,1246 1480.6,1246.6 1482.3,1247.2 1484,1248.4 1485.7,1248 1487.5,1248.1 1489.2,1249.9 1490.9,1249.9 1492.6,1250.7 1494.4,1250.7 1496.1,1252.5 1497.8,1252.1 1499.5,1252.1 1501.3,1252.7 1503,1253.6 1504.7,1253.3 1506.4,1254.3 1508.2,1253.9 1509.9,1255.9 1511.6,1254.8 1513.3,1252.5 1515.1,1256.4 1516.8,1255.9 1518.5,1256.5 1520.2,1257.7 1521.9,1254.9 1523.7,1256.2 1525.4,1258 1527.1,1257.3 1528.8,1259.4 1530.6,1259.7 1532.3,1259.2 1534,1260.6 1535.7,1258.5 1537.5,1260.4 1539.2,1261.6 1540.9,1262.4 1542.6,1262 1544.4,1263.2 1546.1,1262.5 1547.8,1262.4 1549.5,1263.1 1551.3,1265.4 1553,1265.5 1554.7,1264.3 1556.4,1264.7 1558.2,1265.1 1559.9,1263.8 1561.6,1265.1"/>
</g>
<path d="M1044.4,817.5 H1648.6 V1295" fill="none" stroke="#606060" stroke-width="1.2"/>
<path d="M1044.4,816.9 V1295 H1649.6" fill="none" stroke="#000" stroke-width="2.2" stroke-linejoin="miter"/>
<path d="M1044.4,1295v10M1216.8,1295v10M1389.2,1295v10M1561.6,1295v10M1130.6,1295v5M1303,1295v5M1475.4,1295v5M1647.8,1295v5M1044.4,1295h-10M1044.4,1188.8h-10M1044.4,1082.6h-10M1044.4,976.4h-10M1044.4,870.2h-10M1044.4,1241.9h-5M1044.4,1135.7h-5M1044.4,1029.5h-5M1044.4,923.3h-5M1044.4,817.1h-5" fill="none" stroke="#000" stroke-width="2.2"/>
<text transform="translate(1044.4 1343.3) scale(1 1.04)" font-size="41.2" text-anchor="middle">500</text>
<text transform="translate(1216.8 1343.3) scale(1 1.04)" font-size="41.2" text-anchor="middle">600</text>
<text transform="translate(1389.2 1343.3) scale(1 1.04)" font-size="41.2" text-anchor="middle">700</text>
<text transform="translate(1561.6 1343.3) scale(1 1.04)" font-size="41.2" text-anchor="middle">800</text>
<text transform="translate(1027.1 1307.5) scale(1 1.04)" font-size="41.2" text-anchor="end">0.0</text>
<text transform="translate(1027.1 1201.3) scale(1 1.04)" font-size="41.2" text-anchor="end">0.2</text>
<text transform="translate(1027.1 1095.1) scale(1 1.04)" font-size="41.2" text-anchor="end">0.4</text>
<text transform="translate(1027.1 988.9) scale(1 1.04)" font-size="41.2" text-anchor="end">0.6</text>
<text transform="translate(1027.1 882.7) scale(1 1.04)" font-size="41.2" text-anchor="end">0.8</text>
<text transform="translate(1347 1391.2) scale(1 1.04)" font-size="41.5" text-anchor="middle">Wavelength (nm)</text>
<text transform="translate(947.5 1037.5) rotate(-90) scale(1 1.04)" font-size="41.2" text-anchor="middle">Abs</text>
<text transform="translate(886.6 810) scale(1 1)" font-size="82" text-anchor="start">d</text>
<line x1="1501.5" x2="1558.5" y1="839.6" y2="839.6" stroke="#000000" stroke-width="5.5"/>
<text transform="translate(1565.1 848.1) scale(1 1.04)" font-size="25.3" text-anchor="start">0 min</text>
<line x1="1501.5" x2="1558.5" y1="870.9" y2="870.9" stroke="#00ff00" stroke-width="5.5"/>
<text transform="translate(1565.1 879.4) scale(1 1.04)" font-size="25.3" text-anchor="start">30 min</text>
<line x1="1501.5" x2="1558.5" y1="902.2" y2="902.2" stroke="#0000ff" stroke-width="5.5"/>
<text transform="translate(1565.1 910.7) scale(1 1.04)" font-size="25.3" text-anchor="start">60 min</text>
</g>
</svg>
</body></html>
